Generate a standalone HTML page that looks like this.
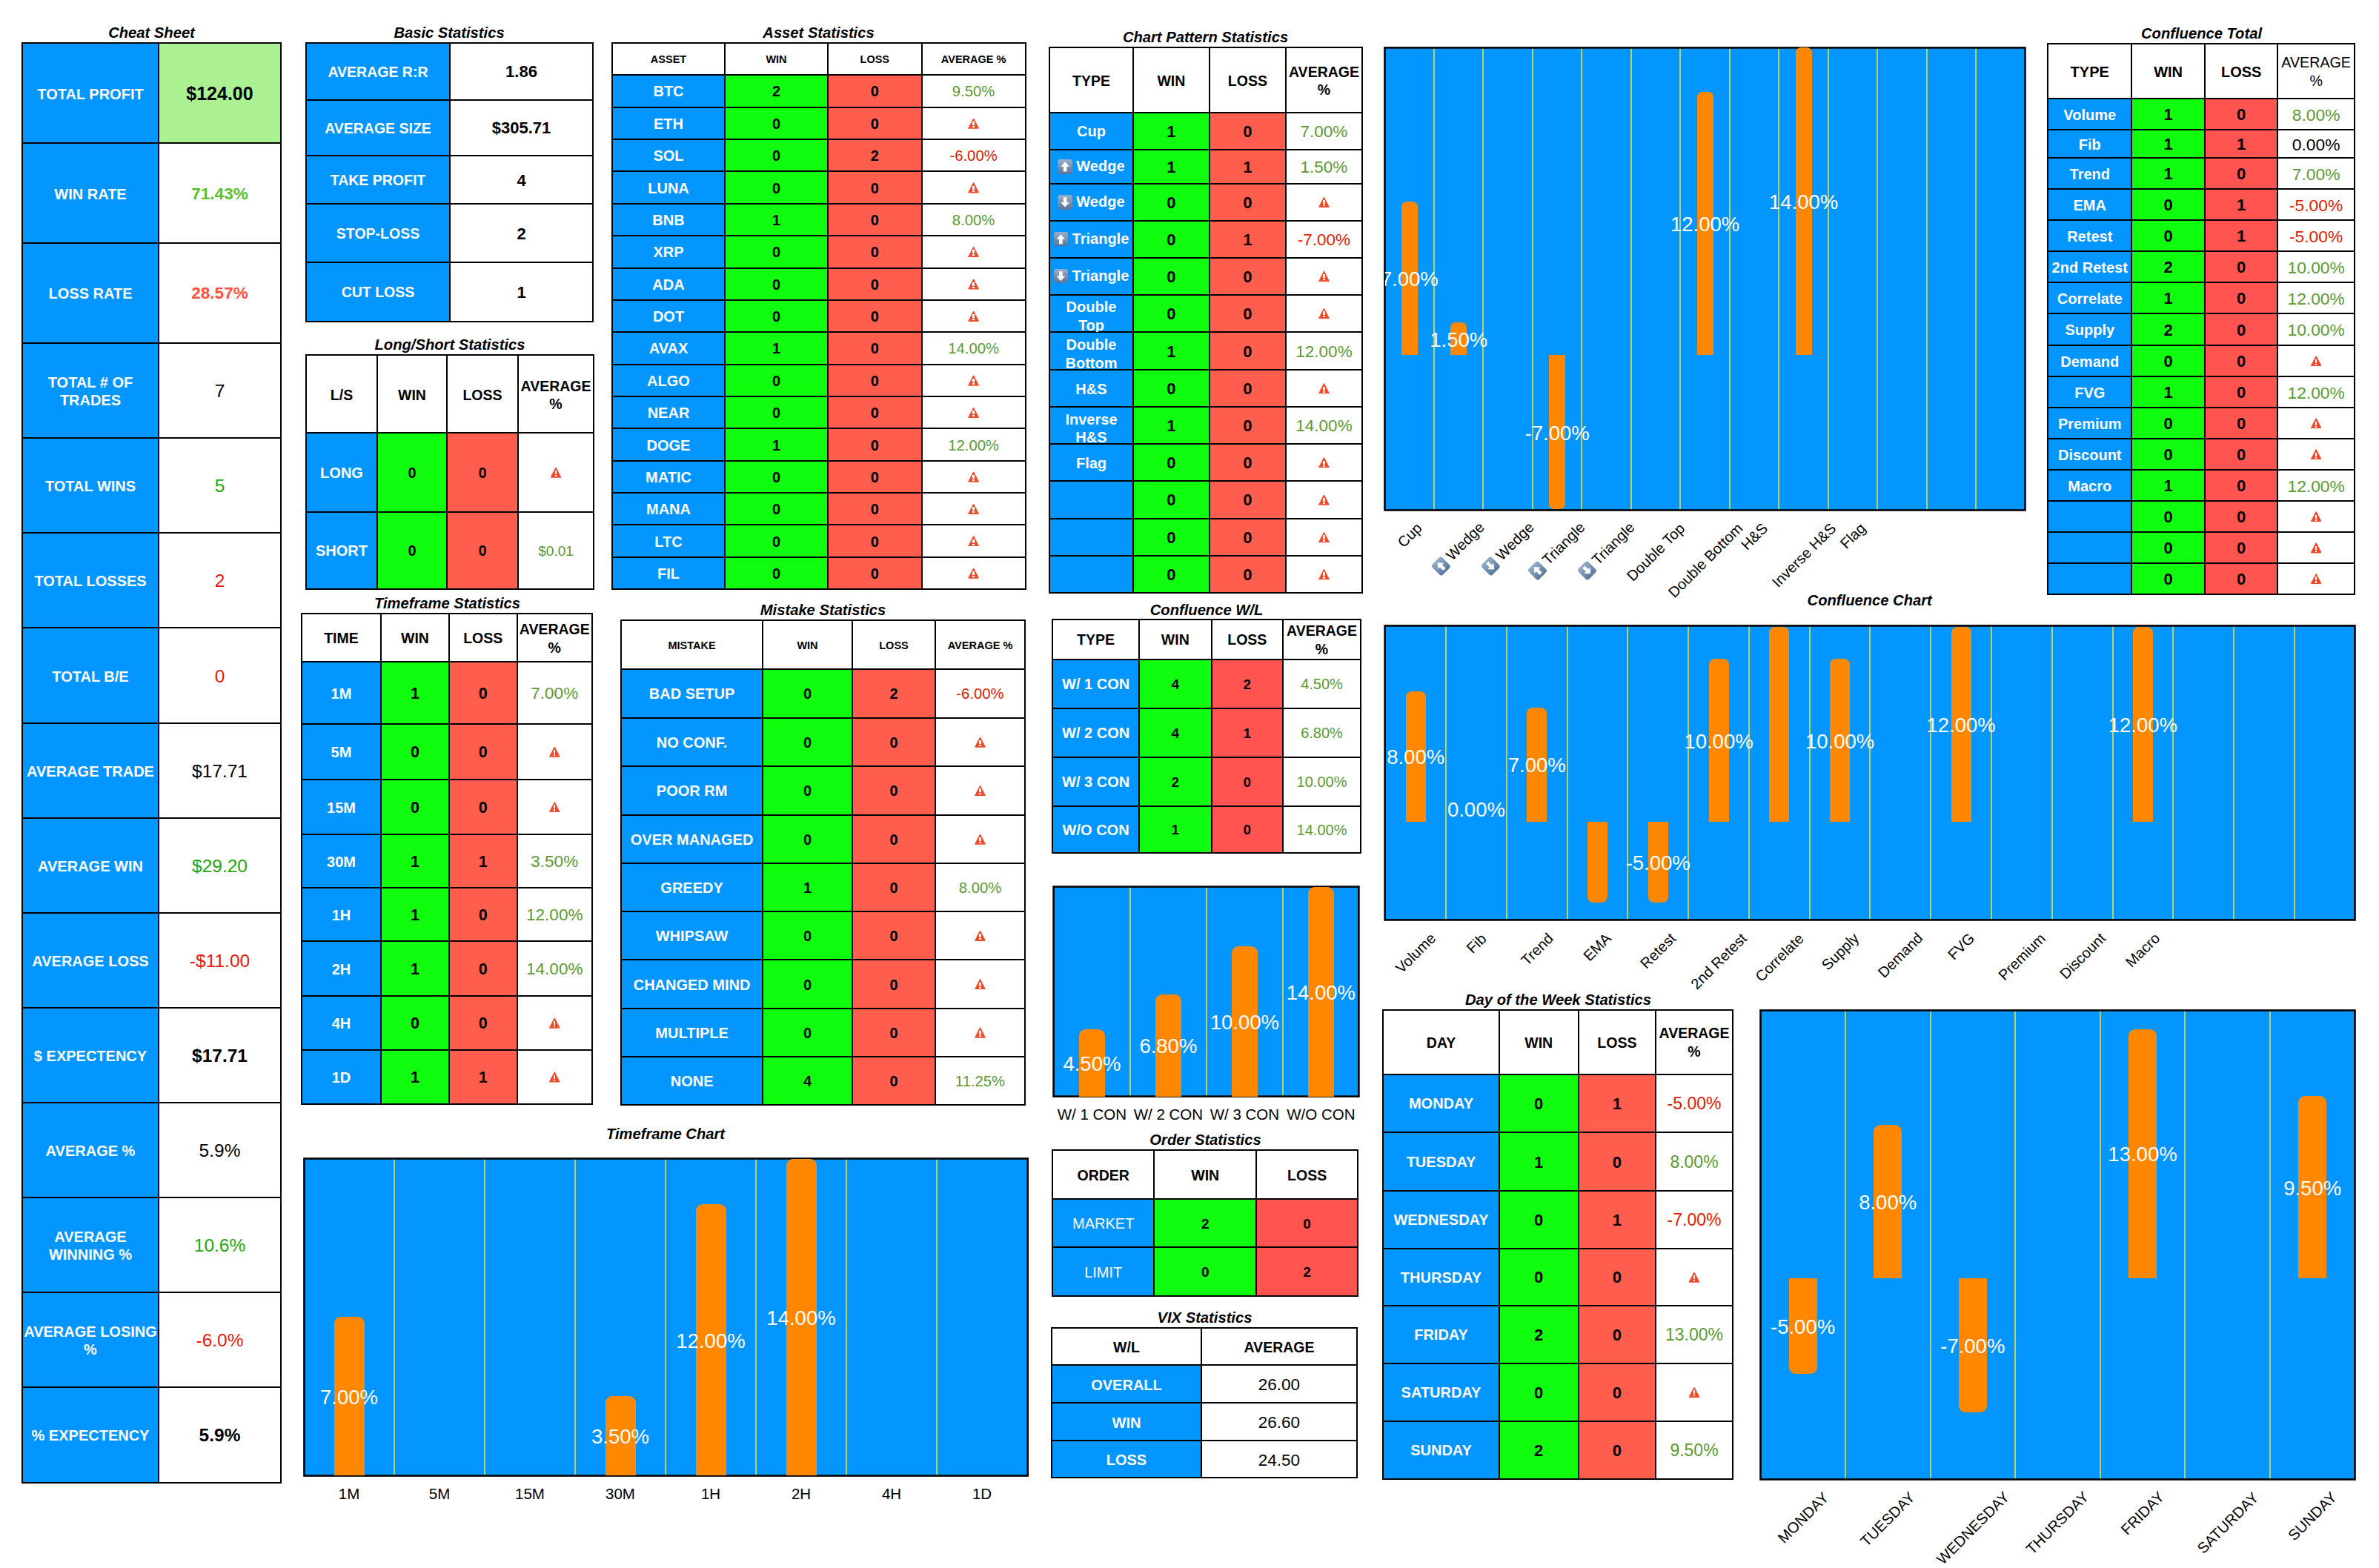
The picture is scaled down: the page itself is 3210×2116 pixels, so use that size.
<!DOCTYPE html>
<html><head><meta charset="utf-8"><title>Trading Dashboard</title>
<style>
html,body{margin:0;padding:0;background:#fff}
body{width:3210px;height:2116px;position:relative;overflow:hidden;font-family:"Liberation Sans",sans-serif;color:#000}
div{position:absolute;box-sizing:border-box}
.c{display:flex;align-items:center;justify-content:center;text-align:center;overflow:hidden;white-space:normal}
.c span{display:block}
.t{width:600px;height:30px;line-height:30px;text-align:center;font-weight:bold;font-style:italic;white-space:nowrap}
.hb{font-weight:bold;color:#000}
.lb{font-weight:bold;color:#fff}
.lr{color:#fff}
.nb{font-weight:bold;color:#000}
.p{font-weight:normal}
.cp em{display:block;font-style:normal;padding-top:6px}
i.w{display:inline-block;position:relative;width:14.4px;height:14.2px;background:#f34c2c;clip-path:polygon(50% 0,54% 2%,100% 93%,98% 100%,2% 100%,0 93%,46% 2%);vertical-align:middle;margin-top:-3px}
i.w b{position:absolute;left:6.1px;top:4.3px;width:2.2px;height:5px;background:#fff}
i.w u{position:absolute;left:6.1px;top:10.3px;width:2.2px;height:2.1px;background:#fff}
i.e{display:inline-block;position:relative;width:19.4px;height:19.4px;border-radius:3.6px;background:linear-gradient(#97aecb,#58759a);vertical-align:-3.5px;font-style:normal}
i.e i{position:absolute;left:0;top:0;width:100%;height:100%;background:#fff}
i.au{clip-path:polygon(50% 16%,80% 50%,62% 50%,62% 84%,38% 84%,38% 50%,20% 50%)}
i.ad{clip-path:polygon(50% 84%,80% 50%,62% 50%,62% 16%,38% 16%,38% 50%,20% 50%)}
.cb{background:#0496ff;overflow:hidden}
.cf{overflow:hidden}
svg.fr{position:absolute;display:block}
.g{top:0;width:2px;height:100%;background:#bfcd66}
.b{background:#ff8800}
.bl{width:200px;height:40px;line-height:40px;text-align:center;color:#fff;white-space:nowrap}
.al{width:400px;height:40px;line-height:40px;text-align:center;white-space:nowrap;transform:rotate(-45deg)}
.al span{display:inline-block}
.ah{width:200px;height:40px;line-height:40px;text-align:center;white-space:nowrap}
</style></head>
<body>
<div class="t" style="left:-95.5px;top:29px;font-size:20.2px">Cheat Sheet</div>
<div style="left:30px;top:58px;width:184px;height:135px;background:#0496ff;"></div>
<div style="left:214px;top:58px;width:165px;height:135px;background:#abf091;"></div>
<div style="left:30px;top:193px;width:184px;height:135px;background:#0496ff;"></div>
<div style="left:30px;top:328px;width:184px;height:134.5px;background:#0496ff;"></div>
<div style="left:30px;top:462.5px;width:184px;height:128.5px;background:#0496ff;"></div>
<div style="left:30px;top:591px;width:184px;height:128px;background:#0496ff;"></div>
<div style="left:30px;top:719px;width:184px;height:128px;background:#0496ff;"></div>
<div style="left:30px;top:847px;width:184px;height:129px;background:#0496ff;"></div>
<div style="left:30px;top:976px;width:184px;height:128px;background:#0496ff;"></div>
<div style="left:30px;top:1104px;width:184px;height:128px;background:#0496ff;"></div>
<div style="left:30px;top:1232px;width:184px;height:128px;background:#0496ff;"></div>
<div style="left:30px;top:1360px;width:184px;height:128px;background:#0496ff;"></div>
<div style="left:30px;top:1488px;width:184px;height:128px;background:#0496ff;"></div>
<div style="left:30px;top:1616px;width:184px;height:128px;background:#0496ff;"></div>
<div style="left:30px;top:1744px;width:184px;height:128px;background:#0496ff;"></div>
<div style="left:30px;top:1872px;width:184px;height:128.5px;background:#0496ff;"></div>
<div style="left:29px;top:57px;width:2px;height:1944.5px;background:#000;"></div>
<div style="left:213px;top:57px;width:2px;height:1944.5px;background:#000;"></div>
<div style="left:378px;top:57px;width:2px;height:1944.5px;background:#000;"></div>
<div style="left:29px;top:57px;width:351px;height:2px;background:#000;"></div>
<div style="left:29px;top:192px;width:351px;height:2px;background:#000;"></div>
<div style="left:29px;top:327px;width:351px;height:2px;background:#000;"></div>
<div style="left:29px;top:461.5px;width:351px;height:2px;background:#000;"></div>
<div style="left:29px;top:590px;width:351px;height:2px;background:#000;"></div>
<div style="left:29px;top:718px;width:351px;height:2px;background:#000;"></div>
<div style="left:29px;top:846px;width:351px;height:2px;background:#000;"></div>
<div style="left:29px;top:975px;width:351px;height:2px;background:#000;"></div>
<div style="left:29px;top:1103px;width:351px;height:2px;background:#000;"></div>
<div style="left:29px;top:1231px;width:351px;height:2px;background:#000;"></div>
<div style="left:29px;top:1359px;width:351px;height:2px;background:#000;"></div>
<div style="left:29px;top:1487px;width:351px;height:2px;background:#000;"></div>
<div style="left:29px;top:1615px;width:351px;height:2px;background:#000;"></div>
<div style="left:29px;top:1743px;width:351px;height:2px;background:#000;"></div>
<div style="left:29px;top:1871px;width:351px;height:2px;background:#000;"></div>
<div style="left:29px;top:1999.5px;width:351px;height:2px;background:#000;"></div>
<div class="c lb" style="left:31px;top:60px;width:182px;height:133px;font-size:20px;line-height:24px"><span>TOTAL PROFIT</span></div>
<div class="c p" style="left:215px;top:60px;width:163px;height:133px;font-weight:bold;font-size:25px"><span>$124.00</span></div>
<div class="c lb" style="left:31px;top:195px;width:182px;height:133px;font-size:20px;line-height:24px"><span>WIN RATE</span></div>
<div class="c p" style="left:215px;top:195px;width:163px;height:133px;font-weight:bold;font-size:22.5px;color:#53c32d"><span>71.43%</span></div>
<div class="c lb" style="left:31px;top:330px;width:182px;height:132.5px;font-size:20px;line-height:24px"><span>LOSS RATE</span></div>
<div class="c p" style="left:215px;top:330px;width:163px;height:132.5px;font-weight:bold;font-size:22.5px;color:#ff4f3f"><span>28.57%</span></div>
<div class="c lb" style="left:31px;top:464.5px;width:182px;height:126.5px;font-size:20px;line-height:24px"><span>TOTAL # OF TRADES</span></div>
<div class="c p" style="left:215px;top:464.5px;width:163px;height:126.5px;font-size:24.5px"><span>7</span></div>
<div class="c lb" style="left:31px;top:593px;width:182px;height:126px;font-size:20px;line-height:24px"><span>TOTAL WINS</span></div>
<div class="c p" style="left:215px;top:593px;width:163px;height:126px;font-size:24.5px;color:#1fa80a"><span>5</span></div>
<div class="c lb" style="left:31px;top:721px;width:182px;height:126px;font-size:20px;line-height:24px"><span>TOTAL LOSSES</span></div>
<div class="c p" style="left:215px;top:721px;width:163px;height:126px;font-size:24.5px;color:#e8190c"><span>2</span></div>
<div class="c lb" style="left:31px;top:849px;width:182px;height:127px;font-size:20px;line-height:24px"><span>TOTAL B/E</span></div>
<div class="c p" style="left:215px;top:849px;width:163px;height:127px;font-size:24.5px;color:#e8190c"><span>0</span></div>
<div class="c lb" style="left:31px;top:978px;width:182px;height:126px;font-size:20px;line-height:24px"><span>AVERAGE TRADE</span></div>
<div class="c p" style="left:215px;top:978px;width:163px;height:126px;font-size:24.5px"><span>$17.71</span></div>
<div class="c lb" style="left:31px;top:1106px;width:182px;height:126px;font-size:20px;line-height:24px"><span>AVERAGE WIN</span></div>
<div class="c p" style="left:215px;top:1106px;width:163px;height:126px;font-size:24.5px;color:#1fa80a"><span>$29.20</span></div>
<div class="c lb" style="left:31px;top:1234px;width:182px;height:126px;font-size:20px;line-height:24px"><span>AVERAGE LOSS</span></div>
<div class="c p" style="left:215px;top:1234px;width:163px;height:126px;font-size:24.5px;color:#e8190c"><span>-$11.00</span></div>
<div class="c lb" style="left:31px;top:1362px;width:182px;height:126px;font-size:20px;line-height:24px"><span>$ EXPECTENCY</span></div>
<div class="c p" style="left:215px;top:1362px;width:163px;height:126px;font-weight:bold;font-size:24.5px"><span>$17.71</span></div>
<div class="c lb" style="left:31px;top:1490px;width:182px;height:126px;font-size:20px;line-height:24px"><span>AVERAGE %</span></div>
<div class="c p" style="left:215px;top:1490px;width:163px;height:126px;font-size:24.5px"><span>5.9%</span></div>
<div class="c lb" style="left:31px;top:1618px;width:182px;height:126px;font-size:20px;line-height:24px"><span>AVERAGE WINNING %</span></div>
<div class="c p" style="left:215px;top:1618px;width:163px;height:126px;font-size:24.5px;color:#1fa80a"><span>10.6%</span></div>
<div class="c lb" style="left:31px;top:1746px;width:182px;height:126px;font-size:20px;line-height:24px"><span>AVERAGE LOSING %</span></div>
<div class="c p" style="left:215px;top:1746px;width:163px;height:126px;font-size:24.5px;color:#e8190c"><span>-6.0%</span></div>
<div class="c lb" style="left:31px;top:1874px;width:182px;height:126.5px;font-size:20px;line-height:24px"><span>% EXPECTENCY</span></div>
<div class="c p" style="left:215px;top:1874px;width:163px;height:126.5px;font-weight:bold;font-size:24.5px"><span>5.9%</span></div>
<div class="t" style="left:306px;top:29px;font-size:20.2px">Basic Statistics</div>
<div style="left:413px;top:58px;width:194px;height:76.5px;background:#0496ff;"></div>
<div style="left:413px;top:134.5px;width:194px;height:75.5px;background:#0496ff;"></div>
<div style="left:413px;top:210px;width:194px;height:65px;background:#0496ff;"></div>
<div style="left:413px;top:275px;width:194px;height:79px;background:#0496ff;"></div>
<div style="left:413px;top:354px;width:194px;height:79.5px;background:#0496ff;"></div>
<div style="left:412px;top:57px;width:2px;height:377.5px;background:#000;"></div>
<div style="left:606px;top:57px;width:2px;height:377.5px;background:#000;"></div>
<div style="left:799px;top:57px;width:2px;height:377.5px;background:#000;"></div>
<div style="left:412px;top:57px;width:389px;height:2px;background:#000;"></div>
<div style="left:412px;top:133.5px;width:389px;height:2px;background:#000;"></div>
<div style="left:412px;top:209px;width:389px;height:2px;background:#000;"></div>
<div style="left:412px;top:274px;width:389px;height:2px;background:#000;"></div>
<div style="left:412px;top:353px;width:389px;height:2px;background:#000;"></div>
<div style="left:412px;top:432.5px;width:389px;height:2px;background:#000;"></div>
<div class="c lb" style="left:414px;top:60px;width:192px;height:74.5px;font-size:19.5px"><span>AVERAGE R:R</span></div>
<div class="c nb" style="left:608px;top:60px;width:191px;height:74.5px;font-size:22px"><span>1.86</span></div>
<div class="c lb" style="left:414px;top:136.5px;width:192px;height:73.5px;font-size:19.5px"><span>AVERAGE SIZE</span></div>
<div class="c nb" style="left:608px;top:136.5px;width:191px;height:73.5px;font-size:22px"><span>$305.71</span></div>
<div class="c lb" style="left:414px;top:212px;width:192px;height:63px;font-size:19.5px"><span>TAKE PROFIT</span></div>
<div class="c nb" style="left:608px;top:212px;width:191px;height:63px;font-size:22px"><span>4</span></div>
<div class="c lb" style="left:414px;top:277px;width:192px;height:77px;font-size:19.5px"><span>STOP-LOSS</span></div>
<div class="c nb" style="left:608px;top:277px;width:191px;height:77px;font-size:22px"><span>2</span></div>
<div class="c lb" style="left:414px;top:356px;width:192px;height:77.5px;font-size:19.5px"><span>CUT LOSS</span></div>
<div class="c nb" style="left:608px;top:356px;width:191px;height:77.5px;font-size:22px"><span>1</span></div>
<div class="t" style="left:307px;top:450px;font-size:20.2px">Long/Short Statistics</div>
<div style="left:413px;top:584px;width:96px;height:107px;background:#0496ff;"></div>
<div style="left:509px;top:584px;width:94px;height:107px;background:#10fd10;"></div>
<div style="left:603px;top:584px;width:96px;height:107px;background:#ff5e4e;"></div>
<div style="left:413px;top:691px;width:96px;height:103.5px;background:#0496ff;"></div>
<div style="left:509px;top:691px;width:94px;height:103.5px;background:#10fd10;"></div>
<div style="left:603px;top:691px;width:96px;height:103.5px;background:#ff5e4e;"></div>
<div style="left:412px;top:478px;width:2px;height:317.5px;background:#000;"></div>
<div style="left:508px;top:478px;width:2px;height:317.5px;background:#000;"></div>
<div style="left:602px;top:478px;width:2px;height:317.5px;background:#000;"></div>
<div style="left:698px;top:478px;width:2px;height:317.5px;background:#000;"></div>
<div style="left:800px;top:478px;width:2px;height:317.5px;background:#000;"></div>
<div style="left:412px;top:478px;width:390px;height:2px;background:#000;"></div>
<div style="left:412px;top:583px;width:390px;height:2px;background:#000;"></div>
<div style="left:412px;top:690px;width:390px;height:2px;background:#000;"></div>
<div style="left:412px;top:793.5px;width:390px;height:2px;background:#000;"></div>
<div class="c hb" style="left:414px;top:481px;width:94px;height:103px;font-size:19.5px;line-height:24px"><span>L/S</span></div>
<div class="c hb" style="left:510px;top:481px;width:92px;height:103px;font-size:19.5px;line-height:24px"><span>WIN</span></div>
<div class="c hb" style="left:604px;top:481px;width:94px;height:103px;font-size:19.5px;line-height:24px"><span>LOSS</span></div>
<div class="c hb" style="left:700px;top:481px;width:100px;height:103px;font-size:19.5px;line-height:24px"><span>AVERAGE %</span></div>
<div class="c lb" style="left:414px;top:586px;width:94px;height:105px;font-size:20px"><span>LONG</span></div>
<div class="c nb" style="left:510px;top:586px;width:92px;height:105px;font-size:20px"><span>0</span></div>
<div class="c nb" style="left:604px;top:586px;width:94px;height:105px;font-size:20px"><span>0</span></div>
<div class="c wc" style="left:700px;top:586px;width:100px;height:105px;"><span><i class="w"><b></b><u></u></i></span></div>
<div class="c lb" style="left:414px;top:693px;width:94px;height:101.5px;font-size:20px"><span>SHORT</span></div>
<div class="c nb" style="left:510px;top:693px;width:92px;height:101.5px;font-size:20px"><span>0</span></div>
<div class="c nb" style="left:604px;top:693px;width:94px;height:101.5px;font-size:20px"><span>0</span></div>
<div class="c p" style="left:700px;top:693px;width:100px;height:101.5px;color:#5a9a32;font-size:19px"><span>$0.01</span></div>
<div class="t" style="left:303.5px;top:799px;font-size:20.2px">Timeframe Statistics</div>
<div style="left:407px;top:893px;width:107px;height:84px;background:#0496ff;"></div>
<div style="left:514px;top:893px;width:92px;height:84px;background:#10fd10;"></div>
<div style="left:606px;top:893px;width:91.5px;height:84px;background:#ff5e4e;"></div>
<div style="left:407px;top:977px;width:107px;height:75px;background:#0496ff;"></div>
<div style="left:514px;top:977px;width:92px;height:75px;background:#10fd10;"></div>
<div style="left:606px;top:977px;width:91.5px;height:75px;background:#ff5e4e;"></div>
<div style="left:407px;top:1052px;width:107px;height:74px;background:#0496ff;"></div>
<div style="left:514px;top:1052px;width:92px;height:74px;background:#10fd10;"></div>
<div style="left:606px;top:1052px;width:91.5px;height:74px;background:#ff5e4e;"></div>
<div style="left:407px;top:1126px;width:107px;height:72px;background:#0496ff;"></div>
<div style="left:514px;top:1126px;width:92px;height:72px;background:#10fd10;"></div>
<div style="left:606px;top:1126px;width:91.5px;height:72px;background:#ff5e4e;"></div>
<div style="left:407px;top:1198px;width:107px;height:72px;background:#0496ff;"></div>
<div style="left:514px;top:1198px;width:92px;height:72px;background:#10fd10;"></div>
<div style="left:606px;top:1198px;width:91.5px;height:72px;background:#ff5e4e;"></div>
<div style="left:407px;top:1270px;width:107px;height:74px;background:#0496ff;"></div>
<div style="left:514px;top:1270px;width:92px;height:74px;background:#10fd10;"></div>
<div style="left:606px;top:1270px;width:91.5px;height:74px;background:#ff5e4e;"></div>
<div style="left:407px;top:1344px;width:107px;height:73px;background:#0496ff;"></div>
<div style="left:514px;top:1344px;width:92px;height:73px;background:#10fd10;"></div>
<div style="left:606px;top:1344px;width:91.5px;height:73px;background:#ff5e4e;"></div>
<div style="left:407px;top:1417px;width:107px;height:72.5px;background:#0496ff;"></div>
<div style="left:514px;top:1417px;width:92px;height:72.5px;background:#10fd10;"></div>
<div style="left:606px;top:1417px;width:91.5px;height:72.5px;background:#ff5e4e;"></div>
<div style="left:406px;top:827px;width:2px;height:663.5px;background:#000;"></div>
<div style="left:513px;top:827px;width:2px;height:663.5px;background:#000;"></div>
<div style="left:605px;top:827px;width:2px;height:663.5px;background:#000;"></div>
<div style="left:696.5px;top:827px;width:2px;height:663.5px;background:#000;"></div>
<div style="left:798px;top:827px;width:2px;height:663.5px;background:#000;"></div>
<div style="left:406px;top:827px;width:394px;height:2px;background:#000;"></div>
<div style="left:406px;top:892px;width:394px;height:2px;background:#000;"></div>
<div style="left:406px;top:976px;width:394px;height:2px;background:#000;"></div>
<div style="left:406px;top:1051px;width:394px;height:2px;background:#000;"></div>
<div style="left:406px;top:1125px;width:394px;height:2px;background:#000;"></div>
<div style="left:406px;top:1197px;width:394px;height:2px;background:#000;"></div>
<div style="left:406px;top:1269px;width:394px;height:2px;background:#000;"></div>
<div style="left:406px;top:1343px;width:394px;height:2px;background:#000;"></div>
<div style="left:406px;top:1416px;width:394px;height:2px;background:#000;"></div>
<div style="left:406px;top:1488.5px;width:394px;height:2px;background:#000;"></div>
<div class="c hb" style="left:408px;top:830px;width:105px;height:63px;font-size:19.5px;line-height:25px"><span>TIME</span></div>
<div class="c hb" style="left:515px;top:830px;width:90px;height:63px;font-size:19.5px;line-height:25px"><span>WIN</span></div>
<div class="c hb" style="left:607px;top:830px;width:89.5px;height:63px;font-size:19.5px;line-height:25px"><span>LOSS</span></div>
<div class="c hb" style="left:698.5px;top:830px;width:99.5px;height:63px;font-size:19.5px;line-height:25px"><span>AVERAGE %</span></div>
<div class="c lb" style="left:408px;top:895px;width:105px;height:82px;font-size:20px;"><span>1M</span></div>
<div class="c nb" style="left:515px;top:895px;width:90px;height:82px;font-size:21.5px"><span>1</span></div>
<div class="c nb" style="left:607px;top:895px;width:89.5px;height:82px;font-size:21.5px"><span>0</span></div>
<div class="c p" style="left:698.5px;top:895px;width:99.5px;height:82px;color:#5a9a32;font-size:22.5px"><span>7.00%</span></div>
<div class="c lb" style="left:408px;top:979px;width:105px;height:73px;font-size:20px;"><span>5M</span></div>
<div class="c nb" style="left:515px;top:979px;width:90px;height:73px;font-size:21.5px"><span>0</span></div>
<div class="c nb" style="left:607px;top:979px;width:89.5px;height:73px;font-size:21.5px"><span>0</span></div>
<div class="c wc" style="left:698.5px;top:979px;width:99.5px;height:73px;"><span><i class="w"><b></b><u></u></i></span></div>
<div class="c lb" style="left:408px;top:1054px;width:105px;height:72px;font-size:20px;"><span>15M</span></div>
<div class="c nb" style="left:515px;top:1054px;width:90px;height:72px;font-size:21.5px"><span>0</span></div>
<div class="c nb" style="left:607px;top:1054px;width:89.5px;height:72px;font-size:21.5px"><span>0</span></div>
<div class="c wc" style="left:698.5px;top:1054px;width:99.5px;height:72px;"><span><i class="w"><b></b><u></u></i></span></div>
<div class="c lb" style="left:408px;top:1128px;width:105px;height:70px;font-size:20px;"><span>30M</span></div>
<div class="c nb" style="left:515px;top:1128px;width:90px;height:70px;font-size:21.5px"><span>1</span></div>
<div class="c nb" style="left:607px;top:1128px;width:89.5px;height:70px;font-size:21.5px"><span>1</span></div>
<div class="c p" style="left:698.5px;top:1128px;width:99.5px;height:70px;color:#5a9a32;font-size:22.5px"><span>3.50%</span></div>
<div class="c lb" style="left:408px;top:1200px;width:105px;height:70px;font-size:20px;"><span>1H</span></div>
<div class="c nb" style="left:515px;top:1200px;width:90px;height:70px;font-size:21.5px"><span>1</span></div>
<div class="c nb" style="left:607px;top:1200px;width:89.5px;height:70px;font-size:21.5px"><span>0</span></div>
<div class="c p" style="left:698.5px;top:1200px;width:99.5px;height:70px;color:#5a9a32;font-size:22.5px"><span>12.00%</span></div>
<div class="c lb" style="left:408px;top:1272px;width:105px;height:72px;font-size:20px;"><span>2H</span></div>
<div class="c nb" style="left:515px;top:1272px;width:90px;height:72px;font-size:21.5px"><span>1</span></div>
<div class="c nb" style="left:607px;top:1272px;width:89.5px;height:72px;font-size:21.5px"><span>0</span></div>
<div class="c p" style="left:698.5px;top:1272px;width:99.5px;height:72px;color:#5a9a32;font-size:22.5px"><span>14.00%</span></div>
<div class="c lb" style="left:408px;top:1346px;width:105px;height:71px;font-size:20px;"><span>4H</span></div>
<div class="c nb" style="left:515px;top:1346px;width:90px;height:71px;font-size:21.5px"><span>0</span></div>
<div class="c nb" style="left:607px;top:1346px;width:89.5px;height:71px;font-size:21.5px"><span>0</span></div>
<div class="c wc" style="left:698.5px;top:1346px;width:99.5px;height:71px;"><span><i class="w"><b></b><u></u></i></span></div>
<div class="c lb" style="left:408px;top:1419px;width:105px;height:70.5px;font-size:20px;"><span>1D</span></div>
<div class="c nb" style="left:515px;top:1419px;width:90px;height:70.5px;font-size:21.5px"><span>1</span></div>
<div class="c nb" style="left:607px;top:1419px;width:89.5px;height:70.5px;font-size:21.5px"><span>1</span></div>
<div class="c wc" style="left:698.5px;top:1419px;width:99.5px;height:70.5px;"><span><i class="w"><b></b><u></u></i></span></div>
<div class="t" style="left:804.5px;top:29px;font-size:20.2px">Asset Statistics</div>
<div style="left:826px;top:100.8px;width:152px;height:43.96px;background:#0496ff;"></div>
<div style="left:978px;top:100.8px;width:139px;height:43.96px;background:#10fd10;"></div>
<div style="left:1117px;top:100.8px;width:126.6px;height:43.96px;background:#ff5e4e;"></div>
<div style="left:826px;top:144.76px;width:152px;height:43.36px;background:#0496ff;"></div>
<div style="left:978px;top:144.76px;width:139px;height:43.36px;background:#10fd10;"></div>
<div style="left:1117px;top:144.76px;width:126.6px;height:43.36px;background:#ff5e4e;"></div>
<div style="left:826px;top:188.12px;width:152px;height:43.36px;background:#0496ff;"></div>
<div style="left:978px;top:188.12px;width:139px;height:43.36px;background:#10fd10;"></div>
<div style="left:1117px;top:188.12px;width:126.6px;height:43.36px;background:#ff5e4e;"></div>
<div style="left:826px;top:231.48px;width:152px;height:43.36px;background:#0496ff;"></div>
<div style="left:978px;top:231.48px;width:139px;height:43.36px;background:#10fd10;"></div>
<div style="left:1117px;top:231.48px;width:126.6px;height:43.36px;background:#ff5e4e;"></div>
<div style="left:826px;top:274.84px;width:152px;height:43.36px;background:#0496ff;"></div>
<div style="left:978px;top:274.84px;width:139px;height:43.36px;background:#10fd10;"></div>
<div style="left:1117px;top:274.84px;width:126.6px;height:43.36px;background:#ff5e4e;"></div>
<div style="left:826px;top:318.2px;width:152px;height:43.36px;background:#0496ff;"></div>
<div style="left:978px;top:318.2px;width:139px;height:43.36px;background:#10fd10;"></div>
<div style="left:1117px;top:318.2px;width:126.6px;height:43.36px;background:#ff5e4e;"></div>
<div style="left:826px;top:361.56px;width:152px;height:43.36px;background:#0496ff;"></div>
<div style="left:978px;top:361.56px;width:139px;height:43.36px;background:#10fd10;"></div>
<div style="left:1117px;top:361.56px;width:126.6px;height:43.36px;background:#ff5e4e;"></div>
<div style="left:826px;top:404.92px;width:152px;height:43.36px;background:#0496ff;"></div>
<div style="left:978px;top:404.92px;width:139px;height:43.36px;background:#10fd10;"></div>
<div style="left:1117px;top:404.92px;width:126.6px;height:43.36px;background:#ff5e4e;"></div>
<div style="left:826px;top:448.28px;width:152px;height:43.36px;background:#0496ff;"></div>
<div style="left:978px;top:448.28px;width:139px;height:43.36px;background:#10fd10;"></div>
<div style="left:1117px;top:448.28px;width:126.6px;height:43.36px;background:#ff5e4e;"></div>
<div style="left:826px;top:491.64px;width:152px;height:43.36px;background:#0496ff;"></div>
<div style="left:978px;top:491.64px;width:139px;height:43.36px;background:#10fd10;"></div>
<div style="left:1117px;top:491.64px;width:126.6px;height:43.36px;background:#ff5e4e;"></div>
<div style="left:826px;top:535px;width:152px;height:43.36px;background:#0496ff;"></div>
<div style="left:978px;top:535px;width:139px;height:43.36px;background:#10fd10;"></div>
<div style="left:1117px;top:535px;width:126.6px;height:43.36px;background:#ff5e4e;"></div>
<div style="left:826px;top:578.36px;width:152px;height:43.36px;background:#0496ff;"></div>
<div style="left:978px;top:578.36px;width:139px;height:43.36px;background:#10fd10;"></div>
<div style="left:1117px;top:578.36px;width:126.6px;height:43.36px;background:#ff5e4e;"></div>
<div style="left:826px;top:621.72px;width:152px;height:43.36px;background:#0496ff;"></div>
<div style="left:978px;top:621.72px;width:139px;height:43.36px;background:#10fd10;"></div>
<div style="left:1117px;top:621.72px;width:126.6px;height:43.36px;background:#ff5e4e;"></div>
<div style="left:826px;top:665.08px;width:152px;height:43.36px;background:#0496ff;"></div>
<div style="left:978px;top:665.08px;width:139px;height:43.36px;background:#10fd10;"></div>
<div style="left:1117px;top:665.08px;width:126.6px;height:43.36px;background:#ff5e4e;"></div>
<div style="left:826px;top:708.44px;width:152px;height:43.36px;background:#0496ff;"></div>
<div style="left:978px;top:708.44px;width:139px;height:43.36px;background:#10fd10;"></div>
<div style="left:1117px;top:708.44px;width:126.6px;height:43.36px;background:#ff5e4e;"></div>
<div style="left:826px;top:751.8px;width:152px;height:43.2px;background:#0496ff;"></div>
<div style="left:978px;top:751.8px;width:139px;height:43.2px;background:#10fd10;"></div>
<div style="left:1117px;top:751.8px;width:126.6px;height:43.2px;background:#ff5e4e;"></div>
<div style="left:825px;top:57px;width:2px;height:739px;background:#000;"></div>
<div style="left:977px;top:57px;width:2px;height:739px;background:#000;"></div>
<div style="left:1116px;top:57px;width:2px;height:739px;background:#000;"></div>
<div style="left:1242.6px;top:57px;width:2px;height:739px;background:#000;"></div>
<div style="left:1382.6px;top:57px;width:2px;height:739px;background:#000;"></div>
<div style="left:825px;top:57px;width:559.6px;height:2px;background:#000;"></div>
<div style="left:825px;top:99.8px;width:559.6px;height:2px;background:#000;"></div>
<div style="left:825px;top:143.76px;width:559.6px;height:2px;background:#000;"></div>
<div style="left:825px;top:187.12px;width:559.6px;height:2px;background:#000;"></div>
<div style="left:825px;top:230.48px;width:559.6px;height:2px;background:#000;"></div>
<div style="left:825px;top:273.84px;width:559.6px;height:2px;background:#000;"></div>
<div style="left:825px;top:317.2px;width:559.6px;height:2px;background:#000;"></div>
<div style="left:825px;top:360.56px;width:559.6px;height:2px;background:#000;"></div>
<div style="left:825px;top:403.92px;width:559.6px;height:2px;background:#000;"></div>
<div style="left:825px;top:447.28px;width:559.6px;height:2px;background:#000;"></div>
<div style="left:825px;top:490.64px;width:559.6px;height:2px;background:#000;"></div>
<div style="left:825px;top:534px;width:559.6px;height:2px;background:#000;"></div>
<div style="left:825px;top:577.36px;width:559.6px;height:2px;background:#000;"></div>
<div style="left:825px;top:620.72px;width:559.6px;height:2px;background:#000;"></div>
<div style="left:825px;top:664.08px;width:559.6px;height:2px;background:#000;"></div>
<div style="left:825px;top:707.44px;width:559.6px;height:2px;background:#000;"></div>
<div style="left:825px;top:750.8px;width:559.6px;height:2px;background:#000;"></div>
<div style="left:825px;top:794px;width:559.6px;height:2px;background:#000;"></div>
<div class="c hb" style="left:827px;top:60px;width:150px;height:40.8px;font-size:14.5px;"><span>ASSET</span></div>
<div class="c hb" style="left:979px;top:60px;width:137px;height:40.8px;font-size:14.5px;"><span>WIN</span></div>
<div class="c hb" style="left:1118px;top:60px;width:124.6px;height:40.8px;font-size:14.5px;"><span>LOSS</span></div>
<div class="c hb" style="left:1244.6px;top:60px;width:138px;height:40.8px;font-size:14.5px;"><span>AVERAGE %</span></div>
<div class="c lb" style="left:827px;top:102.8px;width:150px;height:41.96px;font-size:20px;"><span>BTC</span></div>
<div class="c nb" style="left:979px;top:102.8px;width:137px;height:41.96px;font-size:20px"><span>2</span></div>
<div class="c nb" style="left:1118px;top:102.8px;width:124.6px;height:41.96px;font-size:20px"><span>0</span></div>
<div class="c p" style="left:1244.6px;top:102.8px;width:138px;height:41.96px;color:#5a9a32;font-size:20.3px"><span>9.50%</span></div>
<div class="c lb" style="left:827px;top:146.76px;width:150px;height:41.36px;font-size:20px;"><span>ETH</span></div>
<div class="c nb" style="left:979px;top:146.76px;width:137px;height:41.36px;font-size:20px"><span>0</span></div>
<div class="c nb" style="left:1118px;top:146.76px;width:124.6px;height:41.36px;font-size:20px"><span>0</span></div>
<div class="c wc" style="left:1244.6px;top:146.76px;width:138px;height:41.36px;"><span><i class="w"><b></b><u></u></i></span></div>
<div class="c lb" style="left:827px;top:190.12px;width:150px;height:41.36px;font-size:20px;"><span>SOL</span></div>
<div class="c nb" style="left:979px;top:190.12px;width:137px;height:41.36px;font-size:20px"><span>0</span></div>
<div class="c nb" style="left:1118px;top:190.12px;width:124.6px;height:41.36px;font-size:20px"><span>2</span></div>
<div class="c p" style="left:1244.6px;top:190.12px;width:138px;height:41.36px;color:#e02000;font-size:20.3px"><span>-6.00%</span></div>
<div class="c lb" style="left:827px;top:233.48px;width:150px;height:41.36px;font-size:20px;"><span>LUNA</span></div>
<div class="c nb" style="left:979px;top:233.48px;width:137px;height:41.36px;font-size:20px"><span>0</span></div>
<div class="c nb" style="left:1118px;top:233.48px;width:124.6px;height:41.36px;font-size:20px"><span>0</span></div>
<div class="c wc" style="left:1244.6px;top:233.48px;width:138px;height:41.36px;"><span><i class="w"><b></b><u></u></i></span></div>
<div class="c lb" style="left:827px;top:276.84px;width:150px;height:41.36px;font-size:20px;"><span>BNB</span></div>
<div class="c nb" style="left:979px;top:276.84px;width:137px;height:41.36px;font-size:20px"><span>1</span></div>
<div class="c nb" style="left:1118px;top:276.84px;width:124.6px;height:41.36px;font-size:20px"><span>0</span></div>
<div class="c p" style="left:1244.6px;top:276.84px;width:138px;height:41.36px;color:#5a9a32;font-size:20.3px"><span>8.00%</span></div>
<div class="c lb" style="left:827px;top:320.2px;width:150px;height:41.36px;font-size:20px;"><span>XRP</span></div>
<div class="c nb" style="left:979px;top:320.2px;width:137px;height:41.36px;font-size:20px"><span>0</span></div>
<div class="c nb" style="left:1118px;top:320.2px;width:124.6px;height:41.36px;font-size:20px"><span>0</span></div>
<div class="c wc" style="left:1244.6px;top:320.2px;width:138px;height:41.36px;"><span><i class="w"><b></b><u></u></i></span></div>
<div class="c lb" style="left:827px;top:363.56px;width:150px;height:41.36px;font-size:20px;"><span>ADA</span></div>
<div class="c nb" style="left:979px;top:363.56px;width:137px;height:41.36px;font-size:20px"><span>0</span></div>
<div class="c nb" style="left:1118px;top:363.56px;width:124.6px;height:41.36px;font-size:20px"><span>0</span></div>
<div class="c wc" style="left:1244.6px;top:363.56px;width:138px;height:41.36px;"><span><i class="w"><b></b><u></u></i></span></div>
<div class="c lb" style="left:827px;top:406.92px;width:150px;height:41.36px;font-size:20px;"><span>DOT</span></div>
<div class="c nb" style="left:979px;top:406.92px;width:137px;height:41.36px;font-size:20px"><span>0</span></div>
<div class="c nb" style="left:1118px;top:406.92px;width:124.6px;height:41.36px;font-size:20px"><span>0</span></div>
<div class="c wc" style="left:1244.6px;top:406.92px;width:138px;height:41.36px;"><span><i class="w"><b></b><u></u></i></span></div>
<div class="c lb" style="left:827px;top:450.28px;width:150px;height:41.36px;font-size:20px;"><span>AVAX</span></div>
<div class="c nb" style="left:979px;top:450.28px;width:137px;height:41.36px;font-size:20px"><span>1</span></div>
<div class="c nb" style="left:1118px;top:450.28px;width:124.6px;height:41.36px;font-size:20px"><span>0</span></div>
<div class="c p" style="left:1244.6px;top:450.28px;width:138px;height:41.36px;color:#5a9a32;font-size:20.3px"><span>14.00%</span></div>
<div class="c lb" style="left:827px;top:493.64px;width:150px;height:41.36px;font-size:20px;"><span>ALGO</span></div>
<div class="c nb" style="left:979px;top:493.64px;width:137px;height:41.36px;font-size:20px"><span>0</span></div>
<div class="c nb" style="left:1118px;top:493.64px;width:124.6px;height:41.36px;font-size:20px"><span>0</span></div>
<div class="c wc" style="left:1244.6px;top:493.64px;width:138px;height:41.36px;"><span><i class="w"><b></b><u></u></i></span></div>
<div class="c lb" style="left:827px;top:537px;width:150px;height:41.36px;font-size:20px;"><span>NEAR</span></div>
<div class="c nb" style="left:979px;top:537px;width:137px;height:41.36px;font-size:20px"><span>0</span></div>
<div class="c nb" style="left:1118px;top:537px;width:124.6px;height:41.36px;font-size:20px"><span>0</span></div>
<div class="c wc" style="left:1244.6px;top:537px;width:138px;height:41.36px;"><span><i class="w"><b></b><u></u></i></span></div>
<div class="c lb" style="left:827px;top:580.36px;width:150px;height:41.36px;font-size:20px;"><span>DOGE</span></div>
<div class="c nb" style="left:979px;top:580.36px;width:137px;height:41.36px;font-size:20px"><span>1</span></div>
<div class="c nb" style="left:1118px;top:580.36px;width:124.6px;height:41.36px;font-size:20px"><span>0</span></div>
<div class="c p" style="left:1244.6px;top:580.36px;width:138px;height:41.36px;color:#5a9a32;font-size:20.3px"><span>12.00%</span></div>
<div class="c lb" style="left:827px;top:623.72px;width:150px;height:41.36px;font-size:20px;"><span>MATIC</span></div>
<div class="c nb" style="left:979px;top:623.72px;width:137px;height:41.36px;font-size:20px"><span>0</span></div>
<div class="c nb" style="left:1118px;top:623.72px;width:124.6px;height:41.36px;font-size:20px"><span>0</span></div>
<div class="c wc" style="left:1244.6px;top:623.72px;width:138px;height:41.36px;"><span><i class="w"><b></b><u></u></i></span></div>
<div class="c lb" style="left:827px;top:667.08px;width:150px;height:41.36px;font-size:20px;"><span>MANA</span></div>
<div class="c nb" style="left:979px;top:667.08px;width:137px;height:41.36px;font-size:20px"><span>0</span></div>
<div class="c nb" style="left:1118px;top:667.08px;width:124.6px;height:41.36px;font-size:20px"><span>0</span></div>
<div class="c wc" style="left:1244.6px;top:667.08px;width:138px;height:41.36px;"><span><i class="w"><b></b><u></u></i></span></div>
<div class="c lb" style="left:827px;top:710.44px;width:150px;height:41.36px;font-size:20px;"><span>LTC</span></div>
<div class="c nb" style="left:979px;top:710.44px;width:137px;height:41.36px;font-size:20px"><span>0</span></div>
<div class="c nb" style="left:1118px;top:710.44px;width:124.6px;height:41.36px;font-size:20px"><span>0</span></div>
<div class="c wc" style="left:1244.6px;top:710.44px;width:138px;height:41.36px;"><span><i class="w"><b></b><u></u></i></span></div>
<div class="c lb" style="left:827px;top:753.8px;width:150px;height:41.2px;font-size:20px;"><span>FIL</span></div>
<div class="c nb" style="left:979px;top:753.8px;width:137px;height:41.2px;font-size:20px"><span>0</span></div>
<div class="c nb" style="left:1118px;top:753.8px;width:124.6px;height:41.2px;font-size:20px"><span>0</span></div>
<div class="c wc" style="left:1244.6px;top:753.8px;width:138px;height:41.2px;"><span><i class="w"><b></b><u></u></i></span></div>
<div class="t" style="left:1326.5px;top:35px;font-size:20.2px">Chart Pattern Statistics</div>
<div style="left:1416.2px;top:151.6px;width:112.6px;height:50px;background:#0496ff;"></div>
<div style="left:1528.8px;top:151.6px;width:103.2px;height:50px;background:#10fd10;"></div>
<div style="left:1632px;top:151.6px;width:102.7px;height:50px;background:#ff5e4e;"></div>
<div style="left:1416.2px;top:201.6px;width:112.6px;height:46.4px;background:#0496ff;"></div>
<div style="left:1528.8px;top:201.6px;width:103.2px;height:46.4px;background:#10fd10;"></div>
<div style="left:1632px;top:201.6px;width:102.7px;height:46.4px;background:#ff5e4e;"></div>
<div style="left:1416.2px;top:248px;width:112.6px;height:49.7px;background:#0496ff;"></div>
<div style="left:1528.8px;top:248px;width:103.2px;height:49.7px;background:#10fd10;"></div>
<div style="left:1632px;top:248px;width:102.7px;height:49.7px;background:#ff5e4e;"></div>
<div style="left:1416.2px;top:297.7px;width:112.6px;height:50px;background:#0496ff;"></div>
<div style="left:1528.8px;top:297.7px;width:103.2px;height:50px;background:#10fd10;"></div>
<div style="left:1632px;top:297.7px;width:102.7px;height:50px;background:#ff5e4e;"></div>
<div style="left:1416.2px;top:347.7px;width:112.6px;height:50px;background:#0496ff;"></div>
<div style="left:1528.8px;top:347.7px;width:103.2px;height:50px;background:#10fd10;"></div>
<div style="left:1632px;top:347.7px;width:102.7px;height:50px;background:#ff5e4e;"></div>
<div style="left:1416.2px;top:397.7px;width:112.6px;height:50.3px;background:#0496ff;"></div>
<div style="left:1528.8px;top:397.7px;width:103.2px;height:50.3px;background:#10fd10;"></div>
<div style="left:1632px;top:397.7px;width:102.7px;height:50.3px;background:#ff5e4e;"></div>
<div style="left:1416.2px;top:448px;width:112.6px;height:51px;background:#0496ff;"></div>
<div style="left:1528.8px;top:448px;width:103.2px;height:51px;background:#10fd10;"></div>
<div style="left:1632px;top:448px;width:102.7px;height:51px;background:#ff5e4e;"></div>
<div style="left:1416.2px;top:499px;width:112.6px;height:50.1px;background:#0496ff;"></div>
<div style="left:1528.8px;top:499px;width:103.2px;height:50.1px;background:#10fd10;"></div>
<div style="left:1632px;top:499px;width:102.7px;height:50.1px;background:#ff5e4e;"></div>
<div style="left:1416.2px;top:549.1px;width:112.6px;height:50px;background:#0496ff;"></div>
<div style="left:1528.8px;top:549.1px;width:103.2px;height:50px;background:#10fd10;"></div>
<div style="left:1632px;top:549.1px;width:102.7px;height:50px;background:#ff5e4e;"></div>
<div style="left:1416.2px;top:599.1px;width:112.6px;height:50px;background:#0496ff;"></div>
<div style="left:1528.8px;top:599.1px;width:103.2px;height:50px;background:#10fd10;"></div>
<div style="left:1632px;top:599.1px;width:102.7px;height:50px;background:#ff5e4e;"></div>
<div style="left:1416.2px;top:649.1px;width:112.6px;height:50.7px;background:#0496ff;"></div>
<div style="left:1528.8px;top:649.1px;width:103.2px;height:50.7px;background:#10fd10;"></div>
<div style="left:1632px;top:649.1px;width:102.7px;height:50.7px;background:#ff5e4e;"></div>
<div style="left:1416.2px;top:699.8px;width:112.6px;height:50.4px;background:#0496ff;"></div>
<div style="left:1528.8px;top:699.8px;width:103.2px;height:50.4px;background:#10fd10;"></div>
<div style="left:1632px;top:699.8px;width:102.7px;height:50.4px;background:#ff5e4e;"></div>
<div style="left:1416.2px;top:750.2px;width:112.6px;height:49.5px;background:#0496ff;"></div>
<div style="left:1528.8px;top:750.2px;width:103.2px;height:49.5px;background:#10fd10;"></div>
<div style="left:1632px;top:750.2px;width:102.7px;height:49.5px;background:#ff5e4e;"></div>
<div style="left:1415.2px;top:62.7px;width:2px;height:738px;background:#000;"></div>
<div style="left:1527.8px;top:62.7px;width:2px;height:738px;background:#000;"></div>
<div style="left:1631px;top:62.7px;width:2px;height:738px;background:#000;"></div>
<div style="left:1733.7px;top:62.7px;width:2px;height:738px;background:#000;"></div>
<div style="left:1837.3px;top:62.7px;width:2px;height:738px;background:#000;"></div>
<div style="left:1415.2px;top:62.7px;width:424.1px;height:2px;background:#000;"></div>
<div style="left:1415.2px;top:150.6px;width:424.1px;height:2px;background:#000;"></div>
<div style="left:1415.2px;top:200.6px;width:424.1px;height:2px;background:#000;"></div>
<div style="left:1415.2px;top:247px;width:424.1px;height:2px;background:#000;"></div>
<div style="left:1415.2px;top:296.7px;width:424.1px;height:2px;background:#000;"></div>
<div style="left:1415.2px;top:346.7px;width:424.1px;height:2px;background:#000;"></div>
<div style="left:1415.2px;top:396.7px;width:424.1px;height:2px;background:#000;"></div>
<div style="left:1415.2px;top:447px;width:424.1px;height:2px;background:#000;"></div>
<div style="left:1415.2px;top:498px;width:424.1px;height:2px;background:#000;"></div>
<div style="left:1415.2px;top:548.1px;width:424.1px;height:2px;background:#000;"></div>
<div style="left:1415.2px;top:598.1px;width:424.1px;height:2px;background:#000;"></div>
<div style="left:1415.2px;top:648.1px;width:424.1px;height:2px;background:#000;"></div>
<div style="left:1415.2px;top:698.8px;width:424.1px;height:2px;background:#000;"></div>
<div style="left:1415.2px;top:749.2px;width:424.1px;height:2px;background:#000;"></div>
<div style="left:1415.2px;top:798.7px;width:424.1px;height:2px;background:#000;"></div>
<div class="c hb" style="left:1417.2px;top:65.7px;width:110.6px;height:85.9px;font-size:19.5px;line-height:24px"><span>TYPE</span></div>
<div class="c hb" style="left:1529.8px;top:65.7px;width:101.2px;height:85.9px;font-size:19.5px;line-height:24px"><span>WIN</span></div>
<div class="c hb" style="left:1633px;top:65.7px;width:100.7px;height:85.9px;font-size:19.5px;line-height:24px"><span>LOSS</span></div>
<div class="c hb" style="left:1735.7px;top:65.7px;width:101.6px;height:85.9px;font-size:19.5px;line-height:24px"><span>AVERAGE %</span></div>
<div class="c lb cp" style="left:1417.2px;top:153.6px;width:110.6px;height:48px;font-size:20px;line-height:24.5px"><span>Cup</span></div>
<div class="c nb" style="left:1529.8px;top:153.6px;width:101.2px;height:48px;font-size:22px"><span>1</span></div>
<div class="c nb" style="left:1633px;top:153.6px;width:100.7px;height:48px;font-size:22px"><span>0</span></div>
<div class="c p" style="left:1735.7px;top:153.6px;width:101.6px;height:48px;color:#5a9a32;font-size:22.5px"><span>7.00%</span></div>
<div class="c lb cp" style="left:1417.2px;top:203.6px;width:110.6px;height:44.4px;font-size:20px;line-height:24.5px"><span><em style="padding:0 0 3px"><i class="e"><i class="au"></i></i> Wedge</em></span></div>
<div class="c nb" style="left:1529.8px;top:203.6px;width:101.2px;height:44.4px;font-size:22px"><span>1</span></div>
<div class="c nb" style="left:1633px;top:203.6px;width:100.7px;height:44.4px;font-size:22px"><span>1</span></div>
<div class="c p" style="left:1735.7px;top:203.6px;width:101.6px;height:44.4px;color:#5a9a32;font-size:22.5px"><span>1.50%</span></div>
<div class="c lb cp" style="left:1417.2px;top:250px;width:110.6px;height:47.7px;font-size:20px;line-height:24.5px"><span><em style="padding:0 0 3px"><i class="e"><i class="ad"></i></i> Wedge</em></span></div>
<div class="c nb" style="left:1529.8px;top:250px;width:101.2px;height:47.7px;font-size:22px"><span>0</span></div>
<div class="c nb" style="left:1633px;top:250px;width:100.7px;height:47.7px;font-size:22px"><span>0</span></div>
<div class="c wc" style="left:1735.7px;top:250px;width:101.6px;height:47.7px;"><span><i class="w"><b></b><u></u></i></span></div>
<div class="c lb cp" style="left:1417.2px;top:299.7px;width:110.6px;height:48px;font-size:20px;line-height:24.5px"><span><em style="padding:0 0 3px"><i class="e"><i class="au"></i></i> Triangle</em></span></div>
<div class="c nb" style="left:1529.8px;top:299.7px;width:101.2px;height:48px;font-size:22px"><span>0</span></div>
<div class="c nb" style="left:1633px;top:299.7px;width:100.7px;height:48px;font-size:22px"><span>1</span></div>
<div class="c p" style="left:1735.7px;top:299.7px;width:101.6px;height:48px;color:#e02000;font-size:22.5px"><span>-7.00%</span></div>
<div class="c lb cp" style="left:1417.2px;top:349.7px;width:110.6px;height:48px;font-size:20px;line-height:24.5px"><span><em style="padding:0 0 3px"><i class="e"><i class="ad"></i></i> Triangle</em></span></div>
<div class="c nb" style="left:1529.8px;top:349.7px;width:101.2px;height:48px;font-size:22px"><span>0</span></div>
<div class="c nb" style="left:1633px;top:349.7px;width:100.7px;height:48px;font-size:22px"><span>0</span></div>
<div class="c wc" style="left:1735.7px;top:349.7px;width:101.6px;height:48px;"><span><i class="w"><b></b><u></u></i></span></div>
<div class="c lb cp" style="left:1417.2px;top:399.7px;width:110.6px;height:48.3px;font-size:20px;line-height:24.5px"><span><em>Double<br>Top</em></span></div>
<div class="c nb" style="left:1529.8px;top:399.7px;width:101.2px;height:48.3px;font-size:22px"><span>0</span></div>
<div class="c nb" style="left:1633px;top:399.7px;width:100.7px;height:48.3px;font-size:22px"><span>0</span></div>
<div class="c wc" style="left:1735.7px;top:399.7px;width:101.6px;height:48.3px;"><span><i class="w"><b></b><u></u></i></span></div>
<div class="c lb cp" style="left:1417.2px;top:450px;width:110.6px;height:49px;font-size:20px;line-height:24.5px"><span><em>Double<br>Bottom</em></span></div>
<div class="c nb" style="left:1529.8px;top:450px;width:101.2px;height:49px;font-size:22px"><span>1</span></div>
<div class="c nb" style="left:1633px;top:450px;width:100.7px;height:49px;font-size:22px"><span>0</span></div>
<div class="c p" style="left:1735.7px;top:450px;width:101.6px;height:49px;color:#5a9a32;font-size:22.5px"><span>12.00%</span></div>
<div class="c lb cp" style="left:1417.2px;top:501px;width:110.6px;height:48.1px;font-size:20px;line-height:24.5px"><span>H&amp;S</span></div>
<div class="c nb" style="left:1529.8px;top:501px;width:101.2px;height:48.1px;font-size:22px"><span>0</span></div>
<div class="c nb" style="left:1633px;top:501px;width:100.7px;height:48.1px;font-size:22px"><span>0</span></div>
<div class="c wc" style="left:1735.7px;top:501px;width:101.6px;height:48.1px;"><span><i class="w"><b></b><u></u></i></span></div>
<div class="c lb cp" style="left:1417.2px;top:551.1px;width:110.6px;height:48px;font-size:20px;line-height:24.5px"><span><em>Inverse<br>H&amp;S</em></span></div>
<div class="c nb" style="left:1529.8px;top:551.1px;width:101.2px;height:48px;font-size:22px"><span>1</span></div>
<div class="c nb" style="left:1633px;top:551.1px;width:100.7px;height:48px;font-size:22px"><span>0</span></div>
<div class="c p" style="left:1735.7px;top:551.1px;width:101.6px;height:48px;color:#5a9a32;font-size:22.5px"><span>14.00%</span></div>
<div class="c lb cp" style="left:1417.2px;top:601.1px;width:110.6px;height:48px;font-size:20px;line-height:24.5px"><span>Flag</span></div>
<div class="c nb" style="left:1529.8px;top:601.1px;width:101.2px;height:48px;font-size:22px"><span>0</span></div>
<div class="c nb" style="left:1633px;top:601.1px;width:100.7px;height:48px;font-size:22px"><span>0</span></div>
<div class="c wc" style="left:1735.7px;top:601.1px;width:101.6px;height:48px;"><span><i class="w"><b></b><u></u></i></span></div>
<div class="c lb cp" style="left:1417.2px;top:651.1px;width:110.6px;height:48.7px;font-size:20px;line-height:24.5px"><span></span></div>
<div class="c nb" style="left:1529.8px;top:651.1px;width:101.2px;height:48.7px;font-size:22px"><span>0</span></div>
<div class="c nb" style="left:1633px;top:651.1px;width:100.7px;height:48.7px;font-size:22px"><span>0</span></div>
<div class="c wc" style="left:1735.7px;top:651.1px;width:101.6px;height:48.7px;"><span><i class="w"><b></b><u></u></i></span></div>
<div class="c lb cp" style="left:1417.2px;top:701.8px;width:110.6px;height:48.4px;font-size:20px;line-height:24.5px"><span></span></div>
<div class="c nb" style="left:1529.8px;top:701.8px;width:101.2px;height:48.4px;font-size:22px"><span>0</span></div>
<div class="c nb" style="left:1633px;top:701.8px;width:100.7px;height:48.4px;font-size:22px"><span>0</span></div>
<div class="c wc" style="left:1735.7px;top:701.8px;width:101.6px;height:48.4px;"><span><i class="w"><b></b><u></u></i></span></div>
<div class="c lb cp" style="left:1417.2px;top:752.2px;width:110.6px;height:47.5px;font-size:20px;line-height:24.5px"><span></span></div>
<div class="c nb" style="left:1529.8px;top:752.2px;width:101.2px;height:47.5px;font-size:22px"><span>0</span></div>
<div class="c nb" style="left:1633px;top:752.2px;width:100.7px;height:47.5px;font-size:22px"><span>0</span></div>
<div class="c wc" style="left:1735.7px;top:752.2px;width:101.6px;height:47.5px;"><span><i class="w"><b></b><u></u></i></span></div>
<div class="t" style="left:2670.5px;top:30px;font-size:20.2px">Confluence Total</div>
<div style="left:2763.3px;top:133px;width:112.9px;height:42.2px;background:#0496ff;"></div>
<div style="left:2876.2px;top:133px;width:98.8px;height:42.2px;background:#10fd10;"></div>
<div style="left:2975px;top:133px;width:98.3px;height:42.2px;background:#ff5450;"></div>
<div style="left:2763.3px;top:175.2px;width:112.9px;height:38.1px;background:#0496ff;"></div>
<div style="left:2876.2px;top:175.2px;width:98.8px;height:38.1px;background:#10fd10;"></div>
<div style="left:2975px;top:175.2px;width:98.3px;height:38.1px;background:#ff5450;"></div>
<div style="left:2763.3px;top:213.3px;width:112.9px;height:41.9px;background:#0496ff;"></div>
<div style="left:2876.2px;top:213.3px;width:98.8px;height:41.9px;background:#10fd10;"></div>
<div style="left:2975px;top:213.3px;width:98.3px;height:41.9px;background:#ff5450;"></div>
<div style="left:2763.3px;top:255.2px;width:112.9px;height:41.8px;background:#0496ff;"></div>
<div style="left:2876.2px;top:255.2px;width:98.8px;height:41.8px;background:#10fd10;"></div>
<div style="left:2975px;top:255.2px;width:98.3px;height:41.8px;background:#ff5450;"></div>
<div style="left:2763.3px;top:297px;width:112.9px;height:42px;background:#0496ff;"></div>
<div style="left:2876.2px;top:297px;width:98.8px;height:42px;background:#10fd10;"></div>
<div style="left:2975px;top:297px;width:98.3px;height:42px;background:#ff5450;"></div>
<div style="left:2763.3px;top:339px;width:112.9px;height:42.2px;background:#0496ff;"></div>
<div style="left:2876.2px;top:339px;width:98.8px;height:42.2px;background:#10fd10;"></div>
<div style="left:2975px;top:339px;width:98.3px;height:42.2px;background:#ff5450;"></div>
<div style="left:2763.3px;top:381.2px;width:112.9px;height:42.2px;background:#0496ff;"></div>
<div style="left:2876.2px;top:381.2px;width:98.8px;height:42.2px;background:#10fd10;"></div>
<div style="left:2975px;top:381.2px;width:98.3px;height:42.2px;background:#ff5450;"></div>
<div style="left:2763.3px;top:423.4px;width:112.9px;height:42.6px;background:#0496ff;"></div>
<div style="left:2876.2px;top:423.4px;width:98.8px;height:42.6px;background:#10fd10;"></div>
<div style="left:2975px;top:423.4px;width:98.3px;height:42.6px;background:#ff5450;"></div>
<div style="left:2763.3px;top:466px;width:112.9px;height:42.2px;background:#0496ff;"></div>
<div style="left:2876.2px;top:466px;width:98.8px;height:42.2px;background:#10fd10;"></div>
<div style="left:2975px;top:466px;width:98.3px;height:42.2px;background:#ff5450;"></div>
<div style="left:2763.3px;top:508.2px;width:112.9px;height:41.8px;background:#0496ff;"></div>
<div style="left:2876.2px;top:508.2px;width:98.8px;height:41.8px;background:#10fd10;"></div>
<div style="left:2975px;top:508.2px;width:98.3px;height:41.8px;background:#ff5450;"></div>
<div style="left:2763.3px;top:550px;width:112.9px;height:42.1px;background:#0496ff;"></div>
<div style="left:2876.2px;top:550px;width:98.8px;height:42.1px;background:#10fd10;"></div>
<div style="left:2975px;top:550px;width:98.3px;height:42.1px;background:#ff5450;"></div>
<div style="left:2763.3px;top:592.1px;width:112.9px;height:41.9px;background:#0496ff;"></div>
<div style="left:2876.2px;top:592.1px;width:98.8px;height:41.9px;background:#10fd10;"></div>
<div style="left:2975px;top:592.1px;width:98.3px;height:41.9px;background:#ff5450;"></div>
<div style="left:2763.3px;top:634px;width:112.9px;height:42.2px;background:#0496ff;"></div>
<div style="left:2876.2px;top:634px;width:98.8px;height:42.2px;background:#10fd10;"></div>
<div style="left:2975px;top:634px;width:98.3px;height:42.2px;background:#ff5450;"></div>
<div style="left:2763.3px;top:676.2px;width:112.9px;height:41.8px;background:#0496ff;"></div>
<div style="left:2876.2px;top:676.2px;width:98.8px;height:41.8px;background:#10fd10;"></div>
<div style="left:2975px;top:676.2px;width:98.3px;height:41.8px;background:#ff5450;"></div>
<div style="left:2763.3px;top:718px;width:112.9px;height:42.3px;background:#0496ff;"></div>
<div style="left:2876.2px;top:718px;width:98.8px;height:42.3px;background:#10fd10;"></div>
<div style="left:2975px;top:718px;width:98.3px;height:42.3px;background:#ff5450;"></div>
<div style="left:2763.3px;top:760.3px;width:112.9px;height:41.3px;background:#0496ff;"></div>
<div style="left:2876.2px;top:760.3px;width:98.8px;height:41.3px;background:#10fd10;"></div>
<div style="left:2975px;top:760.3px;width:98.3px;height:41.3px;background:#ff5450;"></div>
<div style="left:2762.3px;top:58px;width:2px;height:744.6px;background:#000;"></div>
<div style="left:2875.2px;top:58px;width:2px;height:744.6px;background:#000;"></div>
<div style="left:2974px;top:58px;width:2px;height:744.6px;background:#000;"></div>
<div style="left:3072.3px;top:58px;width:2px;height:744.6px;background:#000;"></div>
<div style="left:3176px;top:58px;width:2px;height:744.6px;background:#000;"></div>
<div style="left:2762.3px;top:58px;width:415.7px;height:2px;background:#000;"></div>
<div style="left:2762.3px;top:132px;width:415.7px;height:2px;background:#000;"></div>
<div style="left:2762.3px;top:174.2px;width:415.7px;height:2px;background:#000;"></div>
<div style="left:2762.3px;top:212.3px;width:415.7px;height:2px;background:#000;"></div>
<div style="left:2762.3px;top:254.2px;width:415.7px;height:2px;background:#000;"></div>
<div style="left:2762.3px;top:296px;width:415.7px;height:2px;background:#000;"></div>
<div style="left:2762.3px;top:338px;width:415.7px;height:2px;background:#000;"></div>
<div style="left:2762.3px;top:380.2px;width:415.7px;height:2px;background:#000;"></div>
<div style="left:2762.3px;top:422.4px;width:415.7px;height:2px;background:#000;"></div>
<div style="left:2762.3px;top:465px;width:415.7px;height:2px;background:#000;"></div>
<div style="left:2762.3px;top:507.2px;width:415.7px;height:2px;background:#000;"></div>
<div style="left:2762.3px;top:549px;width:415.7px;height:2px;background:#000;"></div>
<div style="left:2762.3px;top:591.1px;width:415.7px;height:2px;background:#000;"></div>
<div style="left:2762.3px;top:633px;width:415.7px;height:2px;background:#000;"></div>
<div style="left:2762.3px;top:675.2px;width:415.7px;height:2px;background:#000;"></div>
<div style="left:2762.3px;top:717px;width:415.7px;height:2px;background:#000;"></div>
<div style="left:2762.3px;top:759.3px;width:415.7px;height:2px;background:#000;"></div>
<div style="left:2762.3px;top:800.6px;width:415.7px;height:2px;background:#000;"></div>
<div class="c hb" style="left:2764.3px;top:61px;width:110.9px;height:72px;font-size:20px;"><span>TYPE</span></div>
<div class="c hb" style="left:2877.2px;top:61px;width:96.8px;height:72px;font-size:20px;"><span>WIN</span></div>
<div class="c hb" style="left:2976px;top:61px;width:96.3px;height:72px;font-size:20px;"><span>LOSS</span></div>
<div class="c hb" style="left:3074.3px;top:61px;width:101.7px;height:72px;font-size:20px;font-weight:normal;font-size:19.7px;line-height:25px"><span>AVERAGE %</span></div>
<div class="c lb" style="left:2764.3px;top:135px;width:110.9px;height:40.2px;font-size:20px;"><span>Volume</span></div>
<div class="c nb" style="left:2877.2px;top:135px;width:96.8px;height:40.2px;font-size:22px"><span>1</span></div>
<div class="c nb" style="left:2976px;top:135px;width:96.3px;height:40.2px;font-size:22px"><span>0</span></div>
<div class="c p" style="left:3074.3px;top:135px;width:101.7px;height:40.2px;color:#5a9a32;font-size:22.8px"><span>8.00%</span></div>
<div class="c lb" style="left:2764.3px;top:177.2px;width:110.9px;height:36.1px;font-size:20px;"><span>Fib</span></div>
<div class="c nb" style="left:2877.2px;top:177.2px;width:96.8px;height:36.1px;font-size:22px"><span>1</span></div>
<div class="c nb" style="left:2976px;top:177.2px;width:96.3px;height:36.1px;font-size:22px"><span>1</span></div>
<div class="c p" style="left:3074.3px;top:177.2px;width:101.7px;height:36.1px;color:#000;font-size:22.8px"><span>0.00%</span></div>
<div class="c lb" style="left:2764.3px;top:215.3px;width:110.9px;height:39.9px;font-size:20px;"><span>Trend</span></div>
<div class="c nb" style="left:2877.2px;top:215.3px;width:96.8px;height:39.9px;font-size:22px"><span>1</span></div>
<div class="c nb" style="left:2976px;top:215.3px;width:96.3px;height:39.9px;font-size:22px"><span>0</span></div>
<div class="c p" style="left:3074.3px;top:215.3px;width:101.7px;height:39.9px;color:#5a9a32;font-size:22.8px"><span>7.00%</span></div>
<div class="c lb" style="left:2764.3px;top:257.2px;width:110.9px;height:39.8px;font-size:20px;"><span>EMA</span></div>
<div class="c nb" style="left:2877.2px;top:257.2px;width:96.8px;height:39.8px;font-size:22px"><span>0</span></div>
<div class="c nb" style="left:2976px;top:257.2px;width:96.3px;height:39.8px;font-size:22px"><span>1</span></div>
<div class="c p" style="left:3074.3px;top:257.2px;width:101.7px;height:39.8px;color:#e02000;font-size:22.8px"><span>-5.00%</span></div>
<div class="c lb" style="left:2764.3px;top:299px;width:110.9px;height:40px;font-size:20px;"><span>Retest</span></div>
<div class="c nb" style="left:2877.2px;top:299px;width:96.8px;height:40px;font-size:22px"><span>0</span></div>
<div class="c nb" style="left:2976px;top:299px;width:96.3px;height:40px;font-size:22px"><span>1</span></div>
<div class="c p" style="left:3074.3px;top:299px;width:101.7px;height:40px;color:#e02000;font-size:22.8px"><span>-5.00%</span></div>
<div class="c lb" style="left:2764.3px;top:341px;width:110.9px;height:40.2px;font-size:20px;"><span>2nd Retest</span></div>
<div class="c nb" style="left:2877.2px;top:341px;width:96.8px;height:40.2px;font-size:22px"><span>2</span></div>
<div class="c nb" style="left:2976px;top:341px;width:96.3px;height:40.2px;font-size:22px"><span>0</span></div>
<div class="c p" style="left:3074.3px;top:341px;width:101.7px;height:40.2px;color:#5a9a32;font-size:22.8px"><span>10.00%</span></div>
<div class="c lb" style="left:2764.3px;top:383.2px;width:110.9px;height:40.2px;font-size:20px;"><span>Correlate</span></div>
<div class="c nb" style="left:2877.2px;top:383.2px;width:96.8px;height:40.2px;font-size:22px"><span>1</span></div>
<div class="c nb" style="left:2976px;top:383.2px;width:96.3px;height:40.2px;font-size:22px"><span>0</span></div>
<div class="c p" style="left:3074.3px;top:383.2px;width:101.7px;height:40.2px;color:#5a9a32;font-size:22.8px"><span>12.00%</span></div>
<div class="c lb" style="left:2764.3px;top:425.4px;width:110.9px;height:40.6px;font-size:20px;"><span>Supply</span></div>
<div class="c nb" style="left:2877.2px;top:425.4px;width:96.8px;height:40.6px;font-size:22px"><span>2</span></div>
<div class="c nb" style="left:2976px;top:425.4px;width:96.3px;height:40.6px;font-size:22px"><span>0</span></div>
<div class="c p" style="left:3074.3px;top:425.4px;width:101.7px;height:40.6px;color:#5a9a32;font-size:22.8px"><span>10.00%</span></div>
<div class="c lb" style="left:2764.3px;top:468px;width:110.9px;height:40.2px;font-size:20px;"><span>Demand</span></div>
<div class="c nb" style="left:2877.2px;top:468px;width:96.8px;height:40.2px;font-size:22px"><span>0</span></div>
<div class="c nb" style="left:2976px;top:468px;width:96.3px;height:40.2px;font-size:22px"><span>0</span></div>
<div class="c wc" style="left:3074.3px;top:468px;width:101.7px;height:40.2px;"><span><i class="w"><b></b><u></u></i></span></div>
<div class="c lb" style="left:2764.3px;top:510.2px;width:110.9px;height:39.8px;font-size:20px;"><span>FVG</span></div>
<div class="c nb" style="left:2877.2px;top:510.2px;width:96.8px;height:39.8px;font-size:22px"><span>1</span></div>
<div class="c nb" style="left:2976px;top:510.2px;width:96.3px;height:39.8px;font-size:22px"><span>0</span></div>
<div class="c p" style="left:3074.3px;top:510.2px;width:101.7px;height:39.8px;color:#5a9a32;font-size:22.8px"><span>12.00%</span></div>
<div class="c lb" style="left:2764.3px;top:552px;width:110.9px;height:40.1px;font-size:20px;"><span>Premium</span></div>
<div class="c nb" style="left:2877.2px;top:552px;width:96.8px;height:40.1px;font-size:22px"><span>0</span></div>
<div class="c nb" style="left:2976px;top:552px;width:96.3px;height:40.1px;font-size:22px"><span>0</span></div>
<div class="c wc" style="left:3074.3px;top:552px;width:101.7px;height:40.1px;"><span><i class="w"><b></b><u></u></i></span></div>
<div class="c lb" style="left:2764.3px;top:594.1px;width:110.9px;height:39.9px;font-size:20px;"><span>Discount</span></div>
<div class="c nb" style="left:2877.2px;top:594.1px;width:96.8px;height:39.9px;font-size:22px"><span>0</span></div>
<div class="c nb" style="left:2976px;top:594.1px;width:96.3px;height:39.9px;font-size:22px"><span>0</span></div>
<div class="c wc" style="left:3074.3px;top:594.1px;width:101.7px;height:39.9px;"><span><i class="w"><b></b><u></u></i></span></div>
<div class="c lb" style="left:2764.3px;top:636px;width:110.9px;height:40.2px;font-size:20px;"><span>Macro</span></div>
<div class="c nb" style="left:2877.2px;top:636px;width:96.8px;height:40.2px;font-size:22px"><span>1</span></div>
<div class="c nb" style="left:2976px;top:636px;width:96.3px;height:40.2px;font-size:22px"><span>0</span></div>
<div class="c p" style="left:3074.3px;top:636px;width:101.7px;height:40.2px;color:#5a9a32;font-size:22.8px"><span>12.00%</span></div>
<div class="c lb" style="left:2764.3px;top:678.2px;width:110.9px;height:39.8px;font-size:20px;"><span></span></div>
<div class="c nb" style="left:2877.2px;top:678.2px;width:96.8px;height:39.8px;font-size:22px"><span>0</span></div>
<div class="c nb" style="left:2976px;top:678.2px;width:96.3px;height:39.8px;font-size:22px"><span>0</span></div>
<div class="c wc" style="left:3074.3px;top:678.2px;width:101.7px;height:39.8px;"><span><i class="w"><b></b><u></u></i></span></div>
<div class="c lb" style="left:2764.3px;top:720px;width:110.9px;height:40.3px;font-size:20px;"><span></span></div>
<div class="c nb" style="left:2877.2px;top:720px;width:96.8px;height:40.3px;font-size:22px"><span>0</span></div>
<div class="c nb" style="left:2976px;top:720px;width:96.3px;height:40.3px;font-size:22px"><span>0</span></div>
<div class="c wc" style="left:3074.3px;top:720px;width:101.7px;height:40.3px;"><span><i class="w"><b></b><u></u></i></span></div>
<div class="c lb" style="left:2764.3px;top:762.3px;width:110.9px;height:39.3px;font-size:20px;"><span></span></div>
<div class="c nb" style="left:2877.2px;top:762.3px;width:96.8px;height:39.3px;font-size:22px"><span>0</span></div>
<div class="c nb" style="left:2976px;top:762.3px;width:96.3px;height:39.3px;font-size:22px"><span>0</span></div>
<div class="c wc" style="left:3074.3px;top:762.3px;width:101.7px;height:39.3px;"><span><i class="w"><b></b><u></u></i></span></div>
<div class="t" style="left:1328px;top:807.5px;font-size:20.2px">Confluence W/L</div>
<div style="left:1420.2px;top:889.8px;width:116.8px;height:65.9px;background:#0496ff;"></div>
<div style="left:1537px;top:889.8px;width:97.6px;height:65.9px;background:#10fd10;"></div>
<div style="left:1634.6px;top:889.8px;width:96.4px;height:65.9px;background:#ff5450;"></div>
<div style="left:1420.2px;top:955.7px;width:116.8px;height:65.9px;background:#0496ff;"></div>
<div style="left:1537px;top:955.7px;width:97.6px;height:65.9px;background:#10fd10;"></div>
<div style="left:1634.6px;top:955.7px;width:96.4px;height:65.9px;background:#ff5450;"></div>
<div style="left:1420.2px;top:1021.6px;width:116.8px;height:66.3px;background:#0496ff;"></div>
<div style="left:1537px;top:1021.6px;width:97.6px;height:66.3px;background:#10fd10;"></div>
<div style="left:1634.6px;top:1021.6px;width:96.4px;height:66.3px;background:#ff5450;"></div>
<div style="left:1420.2px;top:1087.9px;width:116.8px;height:62.9px;background:#0496ff;"></div>
<div style="left:1537px;top:1087.9px;width:97.6px;height:62.9px;background:#10fd10;"></div>
<div style="left:1634.6px;top:1087.9px;width:96.4px;height:62.9px;background:#ff5450;"></div>
<div style="left:1419.2px;top:835.2px;width:2px;height:316.6px;background:#000;"></div>
<div style="left:1536px;top:835.2px;width:2px;height:316.6px;background:#000;"></div>
<div style="left:1633.6px;top:835.2px;width:2px;height:316.6px;background:#000;"></div>
<div style="left:1730px;top:835.2px;width:2px;height:316.6px;background:#000;"></div>
<div style="left:1835px;top:835.2px;width:2px;height:316.6px;background:#000;"></div>
<div style="left:1419.2px;top:835.2px;width:417.8px;height:2px;background:#000;"></div>
<div style="left:1419.2px;top:888.8px;width:417.8px;height:2px;background:#000;"></div>
<div style="left:1419.2px;top:954.7px;width:417.8px;height:2px;background:#000;"></div>
<div style="left:1419.2px;top:1020.6px;width:417.8px;height:2px;background:#000;"></div>
<div style="left:1419.2px;top:1086.9px;width:417.8px;height:2px;background:#000;"></div>
<div style="left:1419.2px;top:1149.8px;width:417.8px;height:2px;background:#000;"></div>
<div class="c hb" style="left:1421.2px;top:838.2px;width:114.8px;height:51.6px;font-size:19.5px;line-height:25px"><span>TYPE</span></div>
<div class="c hb" style="left:1538px;top:838.2px;width:95.6px;height:51.6px;font-size:19.5px;line-height:25px"><span>WIN</span></div>
<div class="c hb" style="left:1635.6px;top:838.2px;width:94.4px;height:51.6px;font-size:19.5px;line-height:25px"><span>LOSS</span></div>
<div class="c hb" style="left:1732px;top:838.2px;width:103px;height:51.6px;font-size:19.5px;line-height:25px"><span>AVERAGE %</span></div>
<div class="c lb" style="left:1421.2px;top:891.8px;width:114.8px;height:63.9px;font-size:20px;"><span>W/ 1 CON</span></div>
<div class="c nb" style="left:1538px;top:891.8px;width:95.6px;height:63.9px;font-size:19px"><span>4</span></div>
<div class="c nb" style="left:1635.6px;top:891.8px;width:94.4px;height:63.9px;font-size:19px"><span>2</span></div>
<div class="c p" style="left:1732px;top:891.8px;width:103px;height:63.9px;color:#5a9a32;font-size:20px"><span>4.50%</span></div>
<div class="c lb" style="left:1421.2px;top:957.7px;width:114.8px;height:63.9px;font-size:20px;"><span>W/ 2 CON</span></div>
<div class="c nb" style="left:1538px;top:957.7px;width:95.6px;height:63.9px;font-size:19px"><span>4</span></div>
<div class="c nb" style="left:1635.6px;top:957.7px;width:94.4px;height:63.9px;font-size:19px"><span>1</span></div>
<div class="c p" style="left:1732px;top:957.7px;width:103px;height:63.9px;color:#5a9a32;font-size:20px"><span>6.80%</span></div>
<div class="c lb" style="left:1421.2px;top:1023.6px;width:114.8px;height:64.3px;font-size:20px;"><span>W/ 3 CON</span></div>
<div class="c nb" style="left:1538px;top:1023.6px;width:95.6px;height:64.3px;font-size:19px"><span>2</span></div>
<div class="c nb" style="left:1635.6px;top:1023.6px;width:94.4px;height:64.3px;font-size:19px"><span>0</span></div>
<div class="c p" style="left:1732px;top:1023.6px;width:103px;height:64.3px;color:#5a9a32;font-size:20px"><span>10.00%</span></div>
<div class="c lb" style="left:1421.2px;top:1089.9px;width:114.8px;height:60.9px;font-size:20px;"><span>W/O CON</span></div>
<div class="c nb" style="left:1538px;top:1089.9px;width:95.6px;height:60.9px;font-size:19px"><span>1</span></div>
<div class="c nb" style="left:1635.6px;top:1089.9px;width:94.4px;height:60.9px;font-size:19px"><span>0</span></div>
<div class="c p" style="left:1732px;top:1089.9px;width:103px;height:60.9px;color:#5a9a32;font-size:20px"><span>14.00%</span></div>
<div class="t" style="left:810.5px;top:807.7px;font-size:20.2px">Mistake Statistics</div>
<div style="left:838.2px;top:902.7px;width:190.8px;height:66.2px;background:#0496ff;"></div>
<div style="left:1029px;top:902.7px;width:121px;height:66.2px;background:#10fd10;"></div>
<div style="left:1150px;top:902.7px;width:112px;height:66.2px;background:#ff5e4e;"></div>
<div style="left:838.2px;top:968.9px;width:190.8px;height:65.2px;background:#0496ff;"></div>
<div style="left:1029px;top:968.9px;width:121px;height:65.2px;background:#10fd10;"></div>
<div style="left:1150px;top:968.9px;width:112px;height:65.2px;background:#ff5e4e;"></div>
<div style="left:838.2px;top:1034.1px;width:190.8px;height:65.6px;background:#0496ff;"></div>
<div style="left:1029px;top:1034.1px;width:121px;height:65.6px;background:#10fd10;"></div>
<div style="left:1150px;top:1034.1px;width:112px;height:65.6px;background:#ff5e4e;"></div>
<div style="left:838.2px;top:1099.7px;width:190.8px;height:65.3px;background:#0496ff;"></div>
<div style="left:1029px;top:1099.7px;width:121px;height:65.3px;background:#10fd10;"></div>
<div style="left:1150px;top:1099.7px;width:112px;height:65.3px;background:#ff5e4e;"></div>
<div style="left:838.2px;top:1165px;width:190.8px;height:64.9px;background:#0496ff;"></div>
<div style="left:1029px;top:1165px;width:121px;height:64.9px;background:#10fd10;"></div>
<div style="left:1150px;top:1165px;width:112px;height:64.9px;background:#ff5e4e;"></div>
<div style="left:838.2px;top:1229.9px;width:190.8px;height:65.5px;background:#0496ff;"></div>
<div style="left:1029px;top:1229.9px;width:121px;height:65.5px;background:#10fd10;"></div>
<div style="left:1150px;top:1229.9px;width:112px;height:65.5px;background:#ff5e4e;"></div>
<div style="left:838.2px;top:1295.4px;width:190.8px;height:65.3px;background:#0496ff;"></div>
<div style="left:1029px;top:1295.4px;width:121px;height:65.3px;background:#10fd10;"></div>
<div style="left:1150px;top:1295.4px;width:112px;height:65.3px;background:#ff5e4e;"></div>
<div style="left:838.2px;top:1360.7px;width:190.8px;height:65.2px;background:#0496ff;"></div>
<div style="left:1029px;top:1360.7px;width:121px;height:65.2px;background:#10fd10;"></div>
<div style="left:1150px;top:1360.7px;width:112px;height:65.2px;background:#ff5e4e;"></div>
<div style="left:838.2px;top:1425.9px;width:190.8px;height:64.7px;background:#0496ff;"></div>
<div style="left:1029px;top:1425.9px;width:121px;height:64.7px;background:#10fd10;"></div>
<div style="left:1150px;top:1425.9px;width:112px;height:64.7px;background:#ff5e4e;"></div>
<div style="left:837.2px;top:836.2px;width:2px;height:655.4px;background:#000;"></div>
<div style="left:1028px;top:836.2px;width:2px;height:655.4px;background:#000;"></div>
<div style="left:1149px;top:836.2px;width:2px;height:655.4px;background:#000;"></div>
<div style="left:1261px;top:836.2px;width:2px;height:655.4px;background:#000;"></div>
<div style="left:1382px;top:836.2px;width:2px;height:655.4px;background:#000;"></div>
<div style="left:837.2px;top:836.2px;width:546.8px;height:2px;background:#000;"></div>
<div style="left:837.2px;top:901.7px;width:546.8px;height:2px;background:#000;"></div>
<div style="left:837.2px;top:967.9px;width:546.8px;height:2px;background:#000;"></div>
<div style="left:837.2px;top:1033.1px;width:546.8px;height:2px;background:#000;"></div>
<div style="left:837.2px;top:1098.7px;width:546.8px;height:2px;background:#000;"></div>
<div style="left:837.2px;top:1164px;width:546.8px;height:2px;background:#000;"></div>
<div style="left:837.2px;top:1228.9px;width:546.8px;height:2px;background:#000;"></div>
<div style="left:837.2px;top:1294.4px;width:546.8px;height:2px;background:#000;"></div>
<div style="left:837.2px;top:1359.7px;width:546.8px;height:2px;background:#000;"></div>
<div style="left:837.2px;top:1424.9px;width:546.8px;height:2px;background:#000;"></div>
<div style="left:837.2px;top:1489.6px;width:546.8px;height:2px;background:#000;"></div>
<div class="c hb" style="left:839.2px;top:839.2px;width:188.8px;height:63.5px;font-size:14.5px;"><span>MISTAKE</span></div>
<div class="c hb" style="left:1030px;top:839.2px;width:119px;height:63.5px;font-size:14.5px;"><span>WIN</span></div>
<div class="c hb" style="left:1151px;top:839.2px;width:110px;height:63.5px;font-size:14.5px;"><span>LOSS</span></div>
<div class="c hb" style="left:1263px;top:839.2px;width:119px;height:63.5px;font-size:14.5px;"><span>AVERAGE %</span></div>
<div class="c lb" style="left:839.2px;top:904.7px;width:188.8px;height:64.2px;font-size:20px;"><span>BAD SETUP</span></div>
<div class="c nb" style="left:1030px;top:904.7px;width:119px;height:64.2px;font-size:20px"><span>0</span></div>
<div class="c nb" style="left:1151px;top:904.7px;width:110px;height:64.2px;font-size:20px"><span>2</span></div>
<div class="c p" style="left:1263px;top:904.7px;width:119px;height:64.2px;color:#e02000;font-size:20.3px"><span>-6.00%</span></div>
<div class="c lb" style="left:839.2px;top:970.9px;width:188.8px;height:63.2px;font-size:20px;"><span>NO CONF.</span></div>
<div class="c nb" style="left:1030px;top:970.9px;width:119px;height:63.2px;font-size:20px"><span>0</span></div>
<div class="c nb" style="left:1151px;top:970.9px;width:110px;height:63.2px;font-size:20px"><span>0</span></div>
<div class="c wc" style="left:1263px;top:970.9px;width:119px;height:63.2px;"><span><i class="w"><b></b><u></u></i></span></div>
<div class="c lb" style="left:839.2px;top:1036.1px;width:188.8px;height:63.6px;font-size:20px;"><span>POOR RM</span></div>
<div class="c nb" style="left:1030px;top:1036.1px;width:119px;height:63.6px;font-size:20px"><span>0</span></div>
<div class="c nb" style="left:1151px;top:1036.1px;width:110px;height:63.6px;font-size:20px"><span>0</span></div>
<div class="c wc" style="left:1263px;top:1036.1px;width:119px;height:63.6px;"><span><i class="w"><b></b><u></u></i></span></div>
<div class="c lb" style="left:839.2px;top:1101.7px;width:188.8px;height:63.3px;font-size:20px;"><span>OVER MANAGED</span></div>
<div class="c nb" style="left:1030px;top:1101.7px;width:119px;height:63.3px;font-size:20px"><span>0</span></div>
<div class="c nb" style="left:1151px;top:1101.7px;width:110px;height:63.3px;font-size:20px"><span>0</span></div>
<div class="c wc" style="left:1263px;top:1101.7px;width:119px;height:63.3px;"><span><i class="w"><b></b><u></u></i></span></div>
<div class="c lb" style="left:839.2px;top:1167px;width:188.8px;height:62.9px;font-size:20px;"><span>GREEDY</span></div>
<div class="c nb" style="left:1030px;top:1167px;width:119px;height:62.9px;font-size:20px"><span>1</span></div>
<div class="c nb" style="left:1151px;top:1167px;width:110px;height:62.9px;font-size:20px"><span>0</span></div>
<div class="c p" style="left:1263px;top:1167px;width:119px;height:62.9px;color:#5a9a32;font-size:20.3px"><span>8.00%</span></div>
<div class="c lb" style="left:839.2px;top:1231.9px;width:188.8px;height:63.5px;font-size:20px;"><span>WHIPSAW</span></div>
<div class="c nb" style="left:1030px;top:1231.9px;width:119px;height:63.5px;font-size:20px"><span>0</span></div>
<div class="c nb" style="left:1151px;top:1231.9px;width:110px;height:63.5px;font-size:20px"><span>0</span></div>
<div class="c wc" style="left:1263px;top:1231.9px;width:119px;height:63.5px;"><span><i class="w"><b></b><u></u></i></span></div>
<div class="c lb" style="left:839.2px;top:1297.4px;width:188.8px;height:63.3px;font-size:20px;"><span>CHANGED MIND</span></div>
<div class="c nb" style="left:1030px;top:1297.4px;width:119px;height:63.3px;font-size:20px"><span>0</span></div>
<div class="c nb" style="left:1151px;top:1297.4px;width:110px;height:63.3px;font-size:20px"><span>0</span></div>
<div class="c wc" style="left:1263px;top:1297.4px;width:119px;height:63.3px;"><span><i class="w"><b></b><u></u></i></span></div>
<div class="c lb" style="left:839.2px;top:1362.7px;width:188.8px;height:63.2px;font-size:20px;"><span>MULTIPLE</span></div>
<div class="c nb" style="left:1030px;top:1362.7px;width:119px;height:63.2px;font-size:20px"><span>0</span></div>
<div class="c nb" style="left:1151px;top:1362.7px;width:110px;height:63.2px;font-size:20px"><span>0</span></div>
<div class="c wc" style="left:1263px;top:1362.7px;width:119px;height:63.2px;"><span><i class="w"><b></b><u></u></i></span></div>
<div class="c lb" style="left:839.2px;top:1427.9px;width:188.8px;height:62.7px;font-size:20px;"><span>NONE</span></div>
<div class="c nb" style="left:1030px;top:1427.9px;width:119px;height:62.7px;font-size:20px"><span>4</span></div>
<div class="c nb" style="left:1151px;top:1427.9px;width:110px;height:62.7px;font-size:20px"><span>0</span></div>
<div class="c p" style="left:1263px;top:1427.9px;width:119px;height:62.7px;color:#5a9a32;font-size:20.3px"><span>11.25%</span></div>
<div class="t" style="left:1326.5px;top:1522.5px;font-size:20.2px">Order Statistics</div>
<div style="left:1420.2px;top:1618px;width:137.1px;height:65.2px;background:#0496ff;"></div>
<div style="left:1557.3px;top:1618px;width:137.8px;height:65.2px;background:#10fd10;"></div>
<div style="left:1695.1px;top:1618px;width:137.1px;height:65.2px;background:#ff5450;"></div>
<div style="left:1420.2px;top:1683.2px;width:137.1px;height:65.7px;background:#0496ff;"></div>
<div style="left:1557.3px;top:1683.2px;width:137.8px;height:65.7px;background:#10fd10;"></div>
<div style="left:1695.1px;top:1683.2px;width:137.1px;height:65.7px;background:#ff5450;"></div>
<div style="left:1419.2px;top:1551.4px;width:2px;height:198.5px;background:#000;"></div>
<div style="left:1556.3px;top:1551.4px;width:2px;height:198.5px;background:#000;"></div>
<div style="left:1694.1px;top:1551.4px;width:2px;height:198.5px;background:#000;"></div>
<div style="left:1831.2px;top:1551.4px;width:2px;height:198.5px;background:#000;"></div>
<div style="left:1419.2px;top:1551.4px;width:414px;height:2px;background:#000;"></div>
<div style="left:1419.2px;top:1617px;width:414px;height:2px;background:#000;"></div>
<div style="left:1419.2px;top:1682.2px;width:414px;height:2px;background:#000;"></div>
<div style="left:1419.2px;top:1747.9px;width:414px;height:2px;background:#000;"></div>
<div class="c hb" style="left:1421.2px;top:1554.4px;width:135.1px;height:63.6px;font-size:19.5px"><span>ORDER</span></div>
<div class="c hb" style="left:1558.3px;top:1554.4px;width:135.8px;height:63.6px;font-size:19.5px"><span>WIN</span></div>
<div class="c hb" style="left:1696.1px;top:1554.4px;width:135.1px;height:63.6px;font-size:19.5px"><span>LOSS</span></div>
<div class="c lr" style="left:1421.2px;top:1620px;width:135.1px;height:63.2px;font-size:20px"><span>MARKET</span></div>
<div class="c nb" style="left:1558.3px;top:1620px;width:135.8px;height:63.2px;font-size:19px"><span>2</span></div>
<div class="c nb" style="left:1696.1px;top:1620px;width:135.1px;height:63.2px;font-size:19px"><span>0</span></div>
<div class="c lr" style="left:1421.2px;top:1685.2px;width:135.1px;height:63.7px;font-size:20px"><span>LIMIT</span></div>
<div class="c nb" style="left:1558.3px;top:1685.2px;width:135.8px;height:63.7px;font-size:19px"><span>0</span></div>
<div class="c nb" style="left:1696.1px;top:1685.2px;width:135.1px;height:63.7px;font-size:19px"><span>2</span></div>
<div class="t" style="left:1325.5px;top:1763px;font-size:20.2px">VIX Statistics</div>
<div style="left:1419.2px;top:1842px;width:201.6px;height:50.7px;background:#0496ff;"></div>
<div style="left:1419.2px;top:1892.7px;width:201.6px;height:51.1px;background:#0496ff;"></div>
<div style="left:1419.2px;top:1943.8px;width:201.6px;height:50.2px;background:#0496ff;"></div>
<div style="left:1418.2px;top:1790.9px;width:2px;height:204.1px;background:#000;"></div>
<div style="left:1619.8px;top:1790.9px;width:2px;height:204.1px;background:#000;"></div>
<div style="left:1830.2px;top:1790.9px;width:2px;height:204.1px;background:#000;"></div>
<div style="left:1418.2px;top:1790.9px;width:414px;height:2px;background:#000;"></div>
<div style="left:1418.2px;top:1841px;width:414px;height:2px;background:#000;"></div>
<div style="left:1418.2px;top:1891.7px;width:414px;height:2px;background:#000;"></div>
<div style="left:1418.2px;top:1942.8px;width:414px;height:2px;background:#000;"></div>
<div style="left:1418.2px;top:1993px;width:414px;height:2px;background:#000;"></div>
<div class="c hb" style="left:1420.2px;top:1794.9px;width:199.6px;height:48.1px;font-size:19.5px"><span>W/L</span></div>
<div class="c hb" style="left:1621.8px;top:1794.9px;width:208.4px;height:48.1px;font-size:19.5px"><span>AVERAGE</span></div>
<div class="c lb" style="left:1420.2px;top:1845px;width:199.6px;height:48.7px;font-size:20px"><span>OVERALL</span></div>
<div class="c p" style="left:1621.8px;top:1845px;width:208.4px;height:48.7px;font-size:22.5px"><span>26.00</span></div>
<div class="c lb" style="left:1420.2px;top:1895.7px;width:199.6px;height:49.1px;font-size:20px"><span>WIN</span></div>
<div class="c p" style="left:1621.8px;top:1895.7px;width:208.4px;height:49.1px;font-size:22.5px"><span>26.60</span></div>
<div class="c lb" style="left:1420.2px;top:1946.8px;width:199.6px;height:48.2px;font-size:20px"><span>LOSS</span></div>
<div class="c p" style="left:1621.8px;top:1946.8px;width:208.4px;height:48.2px;font-size:22.5px"><span>24.50</span></div>
<div class="t" style="left:1802.5px;top:1334px;font-size:20.2px">Day of the Week Statistics</div>
<div style="left:1866.3px;top:1449.6px;width:156.4px;height:78.4px;background:#0496ff;"></div>
<div style="left:2022.7px;top:1449.6px;width:107.1px;height:78.4px;background:#10fd10;"></div>
<div style="left:2129.8px;top:1449.6px;width:104.2px;height:78.4px;background:#ff5e4e;"></div>
<div style="left:1866.3px;top:1528px;width:156.4px;height:79.1px;background:#0496ff;"></div>
<div style="left:2022.7px;top:1528px;width:107.1px;height:79.1px;background:#10fd10;"></div>
<div style="left:2129.8px;top:1528px;width:104.2px;height:79.1px;background:#ff5e4e;"></div>
<div style="left:1866.3px;top:1607.1px;width:156.4px;height:77.8px;background:#0496ff;"></div>
<div style="left:2022.7px;top:1607.1px;width:107.1px;height:77.8px;background:#10fd10;"></div>
<div style="left:2129.8px;top:1607.1px;width:104.2px;height:77.8px;background:#ff5e4e;"></div>
<div style="left:1866.3px;top:1684.9px;width:156.4px;height:77.1px;background:#0496ff;"></div>
<div style="left:2022.7px;top:1684.9px;width:107.1px;height:77.1px;background:#10fd10;"></div>
<div style="left:2129.8px;top:1684.9px;width:104.2px;height:77.1px;background:#ff5e4e;"></div>
<div style="left:1866.3px;top:1762px;width:156.4px;height:77.7px;background:#0496ff;"></div>
<div style="left:2022.7px;top:1762px;width:107.1px;height:77.7px;background:#10fd10;"></div>
<div style="left:2129.8px;top:1762px;width:104.2px;height:77.7px;background:#ff5e4e;"></div>
<div style="left:1866.3px;top:1839.7px;width:156.4px;height:78.1px;background:#0496ff;"></div>
<div style="left:2022.7px;top:1839.7px;width:107.1px;height:78.1px;background:#10fd10;"></div>
<div style="left:2129.8px;top:1839.7px;width:104.2px;height:78.1px;background:#ff5e4e;"></div>
<div style="left:1866.3px;top:1917.8px;width:156.4px;height:77.9px;background:#0496ff;"></div>
<div style="left:2022.7px;top:1917.8px;width:107.1px;height:77.9px;background:#10fd10;"></div>
<div style="left:2129.8px;top:1917.8px;width:104.2px;height:77.9px;background:#ff5e4e;"></div>
<div style="left:1865.3px;top:1362.2px;width:2px;height:634.5px;background:#000;"></div>
<div style="left:2021.7px;top:1362.2px;width:2px;height:634.5px;background:#000;"></div>
<div style="left:2128.8px;top:1362.2px;width:2px;height:634.5px;background:#000;"></div>
<div style="left:2233px;top:1362.2px;width:2px;height:634.5px;background:#000;"></div>
<div style="left:2337px;top:1362.2px;width:2px;height:634.5px;background:#000;"></div>
<div style="left:1865.3px;top:1362.2px;width:473.7px;height:2px;background:#000;"></div>
<div style="left:1865.3px;top:1448.6px;width:473.7px;height:2px;background:#000;"></div>
<div style="left:1865.3px;top:1527px;width:473.7px;height:2px;background:#000;"></div>
<div style="left:1865.3px;top:1606.1px;width:473.7px;height:2px;background:#000;"></div>
<div style="left:1865.3px;top:1683.9px;width:473.7px;height:2px;background:#000;"></div>
<div style="left:1865.3px;top:1761px;width:473.7px;height:2px;background:#000;"></div>
<div style="left:1865.3px;top:1838.7px;width:473.7px;height:2px;background:#000;"></div>
<div style="left:1865.3px;top:1916.8px;width:473.7px;height:2px;background:#000;"></div>
<div style="left:1865.3px;top:1994.7px;width:473.7px;height:2px;background:#000;"></div>
<div class="c hb" style="left:1867.3px;top:1365.2px;width:154.4px;height:84.4px;font-size:19.5px;line-height:25px"><span>DAY</span></div>
<div class="c hb" style="left:2023.7px;top:1365.2px;width:105.1px;height:84.4px;font-size:19.5px;line-height:25px"><span>WIN</span></div>
<div class="c hb" style="left:2130.8px;top:1365.2px;width:102.2px;height:84.4px;font-size:19.5px;line-height:25px"><span>LOSS</span></div>
<div class="c hb" style="left:2235px;top:1365.2px;width:102px;height:84.4px;font-size:19.5px;line-height:25px"><span>AVERAGE %</span></div>
<div class="c lb" style="left:1867.3px;top:1451.6px;width:154.4px;height:76.4px;font-size:20px;"><span>MONDAY</span></div>
<div class="c nb" style="left:2023.7px;top:1451.6px;width:105.1px;height:76.4px;font-size:22px"><span>0</span></div>
<div class="c nb" style="left:2130.8px;top:1451.6px;width:102.2px;height:76.4px;font-size:22px"><span>1</span></div>
<div class="c p" style="left:2235px;top:1451.6px;width:102px;height:76.4px;color:#e02000;font-size:23px"><span>-5.00%</span></div>
<div class="c lb" style="left:1867.3px;top:1530px;width:154.4px;height:77.1px;font-size:20px;"><span>TUESDAY</span></div>
<div class="c nb" style="left:2023.7px;top:1530px;width:105.1px;height:77.1px;font-size:22px"><span>1</span></div>
<div class="c nb" style="left:2130.8px;top:1530px;width:102.2px;height:77.1px;font-size:22px"><span>0</span></div>
<div class="c p" style="left:2235px;top:1530px;width:102px;height:77.1px;color:#5a9a32;font-size:23px"><span>8.00%</span></div>
<div class="c lb" style="left:1867.3px;top:1609.1px;width:154.4px;height:75.8px;font-size:20px;"><span>WEDNESDAY</span></div>
<div class="c nb" style="left:2023.7px;top:1609.1px;width:105.1px;height:75.8px;font-size:22px"><span>0</span></div>
<div class="c nb" style="left:2130.8px;top:1609.1px;width:102.2px;height:75.8px;font-size:22px"><span>1</span></div>
<div class="c p" style="left:2235px;top:1609.1px;width:102px;height:75.8px;color:#e02000;font-size:23px"><span>-7.00%</span></div>
<div class="c lb" style="left:1867.3px;top:1686.9px;width:154.4px;height:75.1px;font-size:20px;"><span>THURSDAY</span></div>
<div class="c nb" style="left:2023.7px;top:1686.9px;width:105.1px;height:75.1px;font-size:22px"><span>0</span></div>
<div class="c nb" style="left:2130.8px;top:1686.9px;width:102.2px;height:75.1px;font-size:22px"><span>0</span></div>
<div class="c wc" style="left:2235px;top:1686.9px;width:102px;height:75.1px;"><span><i class="w"><b></b><u></u></i></span></div>
<div class="c lb" style="left:1867.3px;top:1764px;width:154.4px;height:75.7px;font-size:20px;"><span>FRIDAY</span></div>
<div class="c nb" style="left:2023.7px;top:1764px;width:105.1px;height:75.7px;font-size:22px"><span>2</span></div>
<div class="c nb" style="left:2130.8px;top:1764px;width:102.2px;height:75.7px;font-size:22px"><span>0</span></div>
<div class="c p" style="left:2235px;top:1764px;width:102px;height:75.7px;color:#5a9a32;font-size:23px"><span>13.00%</span></div>
<div class="c lb" style="left:1867.3px;top:1841.7px;width:154.4px;height:76.1px;font-size:20px;"><span>SATURDAY</span></div>
<div class="c nb" style="left:2023.7px;top:1841.7px;width:105.1px;height:76.1px;font-size:22px"><span>0</span></div>
<div class="c nb" style="left:2130.8px;top:1841.7px;width:102.2px;height:76.1px;font-size:22px"><span>0</span></div>
<div class="c wc" style="left:2235px;top:1841.7px;width:102px;height:76.1px;"><span><i class="w"><b></b><u></u></i></span></div>
<div class="c lb" style="left:1867.3px;top:1919.8px;width:154.4px;height:75.9px;font-size:20px;"><span>SUNDAY</span></div>
<div class="c nb" style="left:2023.7px;top:1919.8px;width:105.1px;height:75.9px;font-size:22px"><span>2</span></div>
<div class="c nb" style="left:2130.8px;top:1919.8px;width:102.2px;height:75.9px;font-size:22px"><span>0</span></div>
<div class="c p" style="left:2235px;top:1919.8px;width:102px;height:75.9px;color:#5a9a32;font-size:23px"><span>9.50%</span></div>
<div class="t" style="left:598px;top:1515px;font-size:20.2px">Timeframe Chart</div>
<div class="cb" style="left:410.5px;top:1563.5px;width:976.2px;height:428px">
<div class="g" style="left:120.5px"></div>
<div class="g" style="left:242.5px"></div>
<div class="g" style="left:364.5px"></div>
<div class="g" style="left:486.5px"></div>
<div class="g" style="left:608.5px"></div>
<div class="g" style="left:730.5px"></div>
<div class="g" style="left:852.5px"></div>
</div>
<svg class="fr" style="left:407px;top:1560px" width="983" height="435"><rect x="3.5" y="3.5" width="976.2" height="428" fill="none" stroke="#000" stroke-width="2.6"/></svg>
<div class="cf" style="left:410.5px;top:1563.5px;width:976.2px;height:428px">
<div class="b" style="left:40.5px;top:213.95px;width:41px;height:213.85px;border-radius:9px 9px 0 0"></div>
<div class="bl" style="left:-39.5px;top:302.38px;font-size:27.5px">7.00%</div>
<div class="b" style="left:406.5px;top:320.88px;width:41px;height:106.92px;border-radius:9px 9px 0 0"></div>
<div class="bl" style="left:326.5px;top:355.84px;font-size:27.5px">3.50%</div>
<div class="b" style="left:528.5px;top:61.2px;width:41px;height:366.6px;border-radius:9px 9px 0 0"></div>
<div class="bl" style="left:448.5px;top:226px;font-size:27.5px">12.00%</div>
<div class="b" style="left:650.5px;top:0.1px;width:41px;height:427.7px;border-radius:9px 9px 0 0"></div>
<div class="bl" style="left:570.5px;top:195.45px;font-size:27.5px">14.00%</div>
</div>
<div class="ah" style="left:371px;top:1996px;font-size:20.5px">1M</div>
<div class="ah" style="left:493px;top:1996px;font-size:20.5px">5M</div>
<div class="ah" style="left:615px;top:1996px;font-size:20.5px">15M</div>
<div class="ah" style="left:737px;top:1996px;font-size:20.5px">30M</div>
<div class="ah" style="left:859px;top:1996px;font-size:20.5px">1H</div>
<div class="ah" style="left:981px;top:1996px;font-size:20.5px">2H</div>
<div class="ah" style="left:1103px;top:1996px;font-size:20.5px">4H</div>
<div class="ah" style="left:1225px;top:1996px;font-size:20.5px">1D</div>
<div class="cb" style="left:1868.5px;top:64.4px;width:864px;height:624.05px">
<div class="g" style="left:65.5px"></div>
<div class="g" style="left:131.5px"></div>
<div class="g" style="left:198.5px"></div>
<div class="g" style="left:264.5px"></div>
<div class="g" style="left:331.5px"></div>
<div class="g" style="left:397.5px"></div>
<div class="g" style="left:464.5px"></div>
<div class="g" style="left:530.5px"></div>
<div class="g" style="left:597.5px"></div>
<div class="g" style="left:663.5px"></div>
<div class="g" style="left:730.5px"></div>
<div class="g" style="left:796.5px"></div>
</div>
<svg class="fr" style="left:1865px;top:61px" width="871" height="631"><rect x="3.5" y="3.4" width="864" height="624.05" fill="none" stroke="#000" stroke-width="2.6"/></svg>
<div class="cf" style="left:1868.5px;top:64.4px;width:864px;height:624.05px">
<div class="b" style="left:22.24px;top:207.45px;width:22px;height:207.55px;border-radius:7px 7px 0 0"></div>
<div class="bl" style="left:-66.76px;top:292.73px;font-size:27.5px">7.00%</div>
<div class="b" style="left:88.73px;top:370.52px;width:22px;height:44.48px;border-radius:7px 7px 0 0"></div>
<div class="bl" style="left:-0.27px;top:374.26px;font-size:27.5px">1.50%</div>
<div class="b" style="left:221.7px;top:415px;width:22px;height:207.55px;border-radius:0 0 7px 7px"></div>
<div class="bl" style="left:132.7px;top:500.27px;font-size:27.5px">-7.00%</div>
<div class="b" style="left:421.15px;top:59.2px;width:22px;height:355.8px;border-radius:7px 7px 0 0"></div>
<div class="bl" style="left:332.15px;top:218.6px;font-size:27.5px">12.00%</div>
<div class="b" style="left:554.12px;top:0px;width:22px;height:415px;border-radius:7px 7px 0 0"></div>
<div class="bl" style="left:465.12px;top:189px;font-size:27.5px">14.00%</div>
</div>
<div class="al" style="left:1701.74px;top:702.15px;font-size:20px"><span>Cup</span></div>
<div class="al" style="left:1768.23px;top:718.88px;font-size:20px"><span><i class="e"><i class="au"></i></i> Wedge</span></div>
<div class="al" style="left:1834.71px;top:718.88px;font-size:20px"><span><i class="e"><i class="ad"></i></i> Wedge</span></div>
<div class="al" style="left:1901.2px;top:721.89px;font-size:20px"><span><i class="e"><i class="au"></i></i> Triangle</span></div>
<div class="al" style="left:1967.68px;top:721.89px;font-size:20px"><span><i class="e"><i class="ad"></i></i> Triangle</span></div>
<div class="al" style="left:2034.17px;top:724.82px;font-size:20px"><span>Double Top</span></div>
<div class="al" style="left:2100.65px;top:735.95px;font-size:20px"><span>Double Bottom</span></div>
<div class="al" style="left:2167.13px;top:703.72px;font-size:20px"><span>H&amp;S</span></div>
<div class="al" style="left:2233.62px;top:728.87px;font-size:20px"><span>Inverse H&amp;S</span></div>
<div class="al" style="left:2300.1px;top:702.94px;font-size:20px"><span>Flag</span></div>
<div class="cb" style="left:1421.6px;top:1196.6px;width:411.8px;height:283px">
<div class="g" style="left:102.4px"></div>
<div class="g" style="left:205.4px"></div>
<div class="g" style="left:308.4px"></div>
</div>
<svg class="fr" style="left:1418px;top:1193px" width="419" height="290"><rect x="3.6" y="3.6" width="411.8" height="283" fill="none" stroke="#000" stroke-width="2.6"/></svg>
<div class="cf" style="left:1421.6px;top:1196.6px;width:411.8px;height:283px">
<div class="b" style="left:34.3px;top:192.06px;width:35px;height:90.94px;border-radius:9px 9px 0 0"></div>
<div class="bl" style="left:-48.2px;top:219.03px;font-size:27.5px">4.50%</div>
<div class="b" style="left:137.3px;top:145.57px;width:35px;height:137.43px;border-radius:9px 9px 0 0"></div>
<div class="bl" style="left:54.8px;top:195.79px;font-size:27.5px">6.80%</div>
<div class="b" style="left:240.3px;top:80.9px;width:35px;height:202.1px;border-radius:9px 9px 0 0"></div>
<div class="bl" style="left:157.8px;top:163.45px;font-size:27.5px">10.00%</div>
<div class="b" style="left:343.3px;top:0.06px;width:35px;height:282.94px;border-radius:9px 9px 0 0"></div>
<div class="bl" style="left:260.8px;top:123.03px;font-size:27.5px">14.00%</div>
</div>
<div class="ah" style="left:1373.4px;top:1483.5px;font-size:20.5px">W/ 1 CON</div>
<div class="ah" style="left:1476.4px;top:1483.5px;font-size:20.5px">W/ 2 CON</div>
<div class="ah" style="left:1579.4px;top:1483.5px;font-size:20.5px">W/ 3 CON</div>
<div class="ah" style="left:1682.4px;top:1483.5px;font-size:20.5px">W/O CON</div>
<div class="t" style="left:2222.7px;top:795.2px;font-size:20.2px">Confluence Chart</div>
<div class="cb" style="left:1868.65px;top:844.45px;width:1308.85px;height:397px">
<div class="g" style="left:81.35px"></div>
<div class="g" style="left:163.35px"></div>
<div class="g" style="left:245.35px"></div>
<div class="g" style="left:326.35px"></div>
<div class="g" style="left:408.35px"></div>
<div class="g" style="left:490.35px"></div>
<div class="g" style="left:572.35px"></div>
<div class="g" style="left:653.35px"></div>
<div class="g" style="left:735.35px"></div>
<div class="g" style="left:817.35px"></div>
<div class="g" style="left:899.35px"></div>
<div class="g" style="left:981.35px"></div>
<div class="g" style="left:1062.35px"></div>
<div class="g" style="left:1144.35px"></div>
<div class="g" style="left:1226.35px"></div>
</div>
<svg class="fr" style="left:1865px;top:841px" width="1316" height="404"><rect x="3.65" y="3.45" width="1308.85" height="397" fill="none" stroke="#000" stroke-width="2.6"/></svg>
<div class="cf" style="left:1868.65px;top:844.45px;width:1308.85px;height:397px">
<div class="b" style="left:28.03px;top:88.81px;width:27px;height:175.44px;border-radius:8px 8px 0 0"></div>
<div class="bl" style="left:-58.47px;top:158.03px;font-size:27.5px">8.00%</div>
<div class="bl" style="left:23.3px;top:228.7px;font-size:27.5px">0.00%</div>
<div class="b" style="left:191.57px;top:110.74px;width:27px;height:153.51px;border-radius:8px 8px 0 0"></div>
<div class="bl" style="left:105.07px;top:169px;font-size:27.5px">7.00%</div>
<div class="b" style="left:273.34px;top:264.25px;width:27px;height:109.65px;border-radius:0 0 8px 8px"></div>
<div class="b" style="left:355.11px;top:264.25px;width:27px;height:109.65px;border-radius:0 0 8px 8px"></div>
<div class="bl" style="left:268.61px;top:300.58px;font-size:27.5px">-5.00%</div>
<div class="b" style="left:436.88px;top:44.95px;width:27px;height:219.3px;border-radius:8px 8px 0 0"></div>
<div class="bl" style="left:350.38px;top:136.1px;font-size:27.5px">10.00%</div>
<div class="b" style="left:518.65px;top:1.09px;width:27px;height:263.16px;border-radius:8px 8px 0 0"></div>
<div class="b" style="left:600.42px;top:44.95px;width:27px;height:219.3px;border-radius:8px 8px 0 0"></div>
<div class="bl" style="left:513.92px;top:136.1px;font-size:27.5px">10.00%</div>
<div class="b" style="left:763.95px;top:1.09px;width:27px;height:263.16px;border-radius:8px 8px 0 0"></div>
<div class="bl" style="left:677.45px;top:114.17px;font-size:27.5px">12.00%</div>
<div class="b" style="left:1009.26px;top:1.09px;width:27px;height:263.16px;border-radius:8px 8px 0 0"></div>
<div class="bl" style="left:922.76px;top:114.17px;font-size:27.5px">12.00%</div>
</div>
<div class="al" style="left:1710.18px;top:1266.27px;font-size:20px"><span>Volume</span></div>
<div class="al" style="left:1791.95px;top:1252.5px;font-size:20px"><span>Fib</span></div>
<div class="al" style="left:1873.72px;top:1260.89px;font-size:20px"><span>Trend</span></div>
<div class="al" style="left:1955.49px;top:1258.01px;font-size:20px"><span>EMA</span></div>
<div class="al" style="left:2037.26px;top:1263.12px;font-size:20px"><span>Retest</span></div>
<div class="al" style="left:2119.03px;top:1276.88px;font-size:20px"><span>2nd Retest</span></div>
<div class="al" style="left:2200.8px;top:1271.76px;font-size:20px"><span>Correlate</span></div>
<div class="al" style="left:2282.57px;top:1264.3px;font-size:20px"><span>Supply</span></div>
<div class="al" style="left:2364.33px;top:1269.41px;font-size:20px"><span>Demand</span></div>
<div class="al" style="left:2446.1px;top:1257.22px;font-size:20px"><span>FVG</span></div>
<div class="al" style="left:2527.87px;top:1270.97px;font-size:20px"><span>Premium</span></div>
<div class="al" style="left:2609.64px;top:1270.19px;font-size:20px"><span>Discount</span></div>
<div class="al" style="left:2691.41px;top:1262.33px;font-size:20px"><span>Macro</span></div>
<div class="cb" style="left:2375.5px;top:1363.5px;width:802px;height:632.95px">
<div class="g" style="left:113.5px"></div>
<div class="g" style="left:228.5px"></div>
<div class="g" style="left:342.5px"></div>
<div class="g" style="left:457.5px"></div>
<div class="g" style="left:571.5px"></div>
<div class="g" style="left:686.5px"></div>
</div>
<svg class="fr" style="left:2372px;top:1360px" width="809" height="640"><rect x="3.5" y="3.5" width="802" height="632.95" fill="none" stroke="#000" stroke-width="2.6"/></svg>
<div class="cf" style="left:2375.5px;top:1363.5px;width:802px;height:632.95px">
<div class="b" style="left:38.1px;top:361.4px;width:38px;height:129.25px;border-radius:0 0 9px 9px"></div>
<div class="bl" style="left:-42.9px;top:407.53px;font-size:27.5px">-5.00%</div>
<div class="b" style="left:152.7px;top:154.6px;width:38px;height:206.8px;border-radius:9px 9px 0 0"></div>
<div class="bl" style="left:71.7px;top:239.5px;font-size:27.5px">8.00%</div>
<div class="b" style="left:267.3px;top:361.4px;width:38px;height:180.95px;border-radius:0 0 9px 9px"></div>
<div class="bl" style="left:186.3px;top:433.38px;font-size:27.5px">-7.00%</div>
<div class="b" style="left:496.5px;top:25.35px;width:38px;height:336.05px;border-radius:9px 9px 0 0"></div>
<div class="bl" style="left:415.5px;top:174.88px;font-size:27.5px">13.00%</div>
<div class="b" style="left:725.7px;top:115.83px;width:38px;height:245.58px;border-radius:9px 9px 0 0"></div>
<div class="bl" style="left:644.7px;top:220.11px;font-size:27.5px">9.50%</div>
</div>
<div class="al" style="left:2232.6px;top:2027.55px;font-size:20.2px"><span>MONDAY</span></div>
<div class="al" style="left:2347.2px;top:2029.94px;font-size:20.2px"><span>TUESDAY</span></div>
<div class="al" style="left:2461.8px;top:2042.24px;font-size:20.2px"><span>WEDNESDAY</span></div>
<div class="al" style="left:2576.4px;top:2035.49px;font-size:20.2px"><span>THURSDAY</span></div>
<div class="al" style="left:2691px;top:2022.39px;font-size:20.2px"><span>FRIDAY</span></div>
<div class="al" style="left:2805.6px;top:2034.56px;font-size:20.2px"><span>SATURDAY</span></div>
<div class="al" style="left:2920.2px;top:2025.97px;font-size:20.2px"><span>SUNDAY</span></div>
</body></html>
